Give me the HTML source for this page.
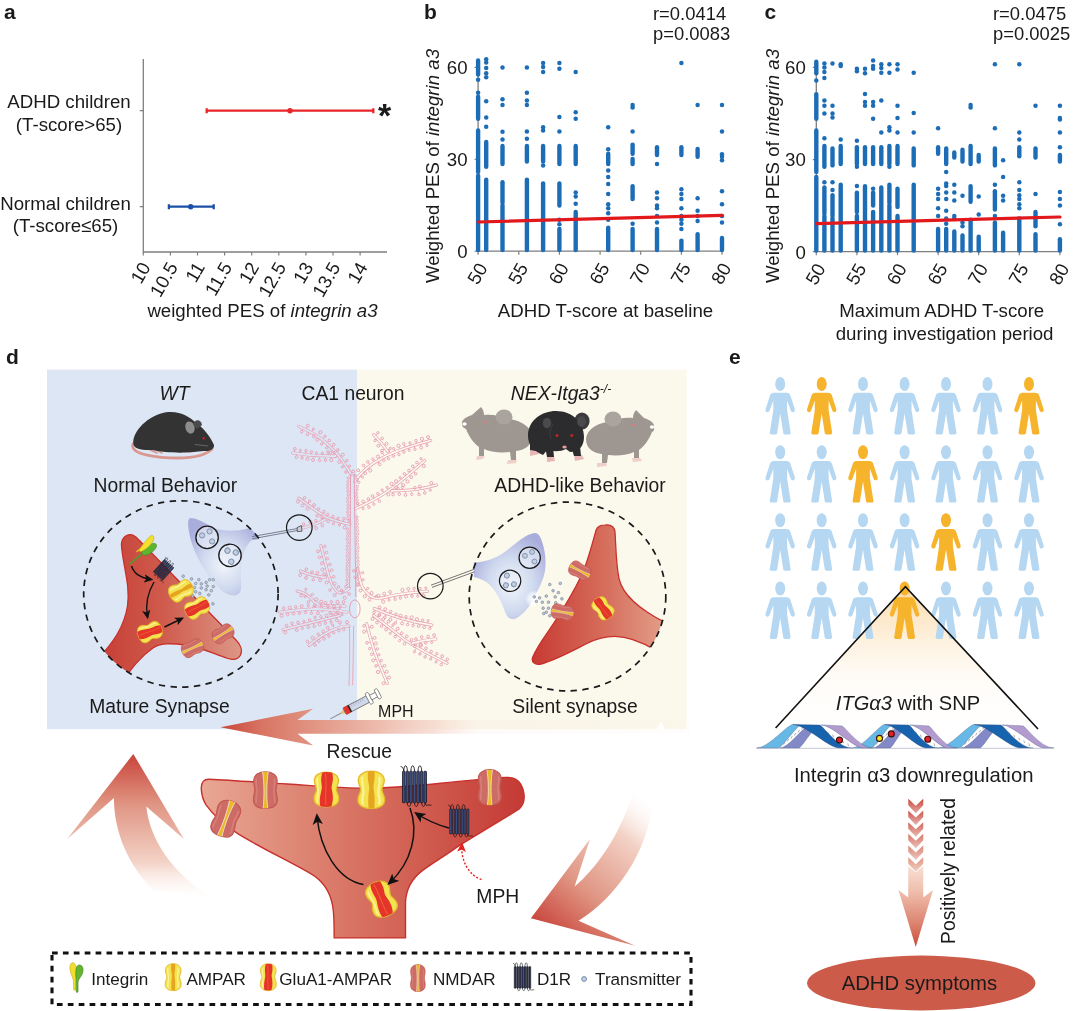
<!DOCTYPE html>
<html lang="en"><head><meta charset="utf-8"><title>Figure</title>
<style>html,body{margin:0;padding:0;background:#fff}svg{display:block}</style></head>
<body>
<svg width="1080" height="1011" viewBox="0 0 1080 1011" font-family='"Liberation Sans", sans-serif'>
<rect width="1080" height="1011" fill="#fff"/>
<defs>
<linearGradient id="gSpL" x1="0" x2="1" y1="0" y2="0"><stop offset="0" stop-color="#c63d35"/><stop offset="0.45" stop-color="#cf5a4c"/><stop offset="1" stop-color="#dd9786"/></linearGradient>
<linearGradient id="gSpR" x1="0" x2="1" y1="0" y2="0"><stop offset="0" stop-color="#c83a33"/><stop offset="0.5" stop-color="#d56a58"/><stop offset="1" stop-color="#e3a18c"/></linearGradient>
<linearGradient id="gSpB" x1="0" x2="1" y1="0" y2="0"><stop offset="0" stop-color="#e8a794"/><stop offset="0.5" stop-color="#d77060"/><stop offset="1" stop-color="#c43a34"/></linearGradient>
<radialGradient id="gBt" cx="0.52" cy="0.6" r="0.62"><stop offset="0" stop-color="#f2f6fb"/><stop offset="0.5" stop-color="#d0daef"/><stop offset="1" stop-color="#a9addc"/></radialGradient>
<linearGradient id="gResc" gradientUnits="userSpaceOnUse" x1="220" x2="690" y1="0" y2="0"><stop offset="0" stop-color="#c8443a"/><stop offset="0.09" stop-color="#d87563"/><stop offset="0.2" stop-color="#e29584"/><stop offset="0.33" stop-color="#ecb6a8" stop-opacity="0.95"/><stop offset="0.45" stop-color="#f2c8bc" stop-opacity="0.6"/><stop offset="0.55" stop-color="#f8dcd2" stop-opacity="0.15"/><stop offset="1" stop-color="#f8dcd2" stop-opacity="0.04"/></linearGradient>
<linearGradient id="gUp" gradientUnits="userSpaceOnUse" x1="0" x2="0" y1="754" y2="898"><stop offset="0" stop-color="#c8433a"/><stop offset="0.35" stop-color="#e09583"/><stop offset="0.75" stop-color="#f3d2c6"/><stop offset="1" stop-color="#fdf3ee" stop-opacity="0"/></linearGradient>
<linearGradient id="gDn" gradientUnits="userSpaceOnUse" x1="535" x2="640" y1="925" y2="795"><stop offset="0" stop-color="#c8433a"/><stop offset="0.35" stop-color="#e09583"/><stop offset="0.75" stop-color="#f3d2c6"/><stop offset="1" stop-color="#fdf3ee" stop-opacity="0"/></linearGradient>
<clipPath id="pclip"><path d="M0,-18.6C7,-18.6 13,-15.5 13,-9.5C13,-4.5 10.6,-3 10.6,0C10.6,3 13.4,5 13.4,10C13.4,16 7.5,18.8 0,18.8C-7.5,18.8 -13.4,16 -13.4,10C-13.4,5 -10.6,3 -10.6,0C-10.6,-3 -13,-4.5 -13,-9.5C-13,-15.5 -7,-18.6 0,-18.6Z"/></clipPath>
<g id="ampar"><path d="M0,-18.6C7,-18.6 13,-15.5 13,-9.5C13,-4.5 10.6,-3 10.6,0C10.6,3 13.4,5 13.4,10C13.4,16 7.5,18.8 0,18.8C-7.5,18.8 -13.4,16 -13.4,10C-13.4,5 -10.6,3 -10.6,0C-10.6,-3 -13,-4.5 -13,-9.5C-13,-15.5 -7,-18.6 0,-18.6Z" fill="#f4e24e" stroke="#e3b92a" stroke-width="1.3"/><path clip-path="url(#pclip)" d="M-3.2,-19C-4.6,-8 -1.2,-5 -2.2,0C-3.2,6 -3.4,12 -2.6,19L3,19C3.4,12 3.6,5 2.4,0C1.4,-5 4.2,-9 3.2,-19Z" fill="#e6a51e"/><path d="M-9,-12C-10,-6 -7.5,-3 -7.8,2C-8,8 -10,10 -8.5,14" fill="none" stroke="#faf29a" stroke-width="2.4" stroke-linecap="round"/><path d="M8,-12C9.4,-6 6.8,-3 7,2C7.2,8 9.6,10 8,14" fill="none" stroke="#faf29a" stroke-width="2.4" stroke-linecap="round"/></g>
<g id="glua1"><path d="M0,-18.6C7,-18.6 13,-15.5 13,-9.5C13,-4.5 10.6,-3 10.6,0C10.6,3 13.4,5 13.4,10C13.4,16 7.5,18.8 0,18.8C-7.5,18.8 -13.4,16 -13.4,10C-13.4,5 -10.6,3 -10.6,0C-10.6,-3 -13,-4.5 -13,-9.5C-13,-15.5 -7,-18.6 0,-18.6Z" fill="#f4e24e" stroke="#e3b92a" stroke-width="1.3"/><path clip-path="url(#pclip)" d="M-4,-19C-7.5,-10 -4,-5 -5.2,0C-6.5,6 -8,11 -6.5,19L5,19C8,12 7,5 5.8,0C4.6,-5 9,-9 6,-19Z" fill="#e5352a"/><path d="M-1,-17C0.5,-8 -1.5,4 -0.5,17" fill="none" stroke="#f06a3a" stroke-width="0.9"/><path d="M-9.6,-12C-10.6,-6 -8.6,-3 -8.8,2C-9,8 -10.6,10 -9.4,14" fill="none" stroke="#faf29a" stroke-width="1.8" stroke-linecap="round"/></g>
<clipPath id="nclip"><path d="M0,-18.6C6.5,-18.6 12,-15.5 12,-9.5C12,-4.5 10.8,-3 10.8,0C10.8,3 12.2,5 12.2,10C12.2,16 7,18.8 0,18.8C-7,18.8 -12.2,16 -12.2,10C-12.2,5 -10.8,3 -10.8,0C-10.8,-3 -12,-4.5 -12,-9.5C-12,-15.5 -6.5,-18.6 0,-18.6Z"/></clipPath>
<g id="nmdar"><path d="M0,-18.6C6.5,-18.6 12,-15.5 12,-9.5C12,-4.5 10.8,-3 10.8,0C10.8,3 12.2,5 12.2,10C12.2,16 7,18.8 0,18.8C-7,18.8 -12.2,16 -12.2,10C-12.2,5 -10.8,3 -10.8,0C-10.8,-3 -12,-4.5 -12,-9.5C-12,-15.5 -6.5,-18.6 0,-18.6Z" fill="#cd6b67" stroke="#c2584e" stroke-width="1.1"/><path d="M-9.4,-11C-10,-6 -8.6,-3 -8.7,1C-8.8,7 -10,9 -9.4,13" fill="none" stroke="#d87f78" stroke-width="1.6" stroke-linecap="round"/><path d="M9.4,-11C10,-6 8.6,-3 8.7,1C8.8,7 10,9 9.4,13" fill="none" stroke="#d87f78" stroke-width="1.6" stroke-linecap="round"/><path clip-path="url(#nclip)" d="M-3,-19L3,-19C1.2,-9 0.9,7 2.4,19.2L-2.4,19.2C-0.9,7 -1.2,-9 -3,-19Z" fill="#e9b822" stroke="#f4ded0" stroke-width="0.9"/></g>
<g id="d1r"><path d="M-10.2,-15c0,-7 3.4,-7 3.4,0M-3.4,-15c0,-7 3.4,-7 3.4,0M3.4,-15c0,-7 3.4,-7 3.4,0M-6.8,15c0,4.6 3.4,4.6 3.4,0M0,15c0,4.6 3.4,4.6 3.4,0M6.8,15c0,4.6 3.4,4.6 3.4,0M-10.2,-15c-0.3,-3 -1.2,-4.5 -3,-4.5M10.2,15c0.4,3 2,2.6 3,2.2s2,0.6 3,0" fill="none" stroke="#0f1118" stroke-width="0.8"/><rect x="-11.45" y="-15" width="2.5" height="30" rx="0.6" fill="#3e4f82" stroke="#0f1118" stroke-width="0.7"/><rect x="-8.05" y="-15" width="2.5" height="30" rx="0.6" fill="#3e4f82" stroke="#0f1118" stroke-width="0.7"/><rect x="-4.65" y="-15" width="2.5" height="30" rx="0.6" fill="#3e4f82" stroke="#0f1118" stroke-width="0.7"/><rect x="-1.25" y="-15" width="2.5" height="30" rx="0.6" fill="#3e4f82" stroke="#0f1118" stroke-width="0.7"/><rect x="2.15" y="-15" width="2.5" height="30" rx="0.6" fill="#3e4f82" stroke="#0f1118" stroke-width="0.7"/><rect x="5.55" y="-15" width="2.5" height="30" rx="0.6" fill="#3e4f82" stroke="#0f1118" stroke-width="0.7"/><rect x="8.95" y="-15" width="2.5" height="30" rx="0.6" fill="#3e4f82" stroke="#0f1118" stroke-width="0.7"/></g>
<g id="d1rk"><path d="M-10.2,-15c0,-7 3.4,-7 3.4,0M-3.4,-15c0,-7 3.4,-7 3.4,0M3.4,-15c0,-7 3.4,-7 3.4,0M-6.8,15c0,4.6 3.4,4.6 3.4,0M0,15c0,4.6 3.4,4.6 3.4,0M6.8,15c0,4.6 3.4,4.6 3.4,0M-10.2,-15c-0.3,-3 -1.2,-4.5 -3,-4.5M10.2,15c0.4,3 2,2.6 3,2.2s2,0.6 3,0" fill="none" stroke="#0f1118" stroke-width="0.8"/><rect x="-11.45" y="-15" width="2.5" height="30" rx="0.6" fill="#2b3152" stroke="#0f1118" stroke-width="0.7"/><rect x="-8.05" y="-15" width="2.5" height="30" rx="0.6" fill="#2b3152" stroke="#0f1118" stroke-width="0.7"/><rect x="-4.65" y="-15" width="2.5" height="30" rx="0.6" fill="#2b3152" stroke="#0f1118" stroke-width="0.7"/><rect x="-1.25" y="-15" width="2.5" height="30" rx="0.6" fill="#2b3152" stroke="#0f1118" stroke-width="0.7"/><rect x="2.15" y="-15" width="2.5" height="30" rx="0.6" fill="#2b3152" stroke="#0f1118" stroke-width="0.7"/><rect x="5.55" y="-15" width="2.5" height="30" rx="0.6" fill="#2b3152" stroke="#0f1118" stroke-width="0.7"/><rect x="8.95" y="-15" width="2.5" height="30" rx="0.6" fill="#2b3152" stroke="#0f1118" stroke-width="0.7"/></g>
<g id="integ"><path d="M-2.5,-13C-6,-14 -7,-8 -5,-3C-4,0 -2.8,2 -2.6,5L-2.4,12C-2.4,13.6 -0.6,13.6 -0.6,12L-0.6,2C0.5,-3 1.5,-10 -2.5,-13Z" fill="#f1de2c" stroke="#b8a21a" stroke-width="0.5"/><path d="M3,-11C7.5,-11 7.5,-4 4.5,0C3,2 1.8,3.5 1.8,6L1.8,14C1.8,15.6 0,15.6 0,14L0,3C-0.8,-3 -1,-11 3,-11Z" fill="#62b32e" stroke="#3f7d1c" stroke-width="0.5"/></g>
<g id="ves"><circle r="11.2" fill="#e9eef8" fill-opacity="0.6" stroke="#1a1a1a" stroke-width="1.3"/><circle cx="-5" cy="-2" r="2.6" fill="#c3cede" stroke="#7f93ae" stroke-width="1"/><circle cx="2.5" cy="-6" r="2.6" fill="#c3cede" stroke="#7f93ae" stroke-width="1"/><circle cx="5" cy="4" r="2.6" fill="#c3cede" stroke="#7f93ae" stroke-width="1"/></g>
<radialGradient id="gGlow"><stop offset="0" stop-color="#fff" stop-opacity="0.95"/><stop offset="0.6" stop-color="#fff" stop-opacity="0.6"/><stop offset="1" stop-color="#fff" stop-opacity="0"/></radialGradient>
<marker id="ah" viewBox="0 0 10 10" refX="7.5" refY="5" markerWidth="7.6" markerHeight="7.6" orient="auto-start-reverse"><path d="M0,0.5L10,5L0,9.5L2.5,5Z" fill="#111"/></marker>
<marker id="ahs" viewBox="0 0 10 10" refX="7.5" refY="5" markerWidth="6.6" markerHeight="6.6" orient="auto-start-reverse"><path d="M0,0.5L10,5L0,9.5L2.5,5Z" fill="#111"/></marker>
<marker id="ahr" viewBox="0 0 10 10" refX="6" refY="5" markerWidth="7" markerHeight="7" orient="auto-start-reverse"><path d="M0,0.5L10,5L0,9.5L2.5,5Z" fill="#e2231f"/></marker>
</defs>
<defs>
<g id="person"><ellipse cx="0" cy="7" rx="5" ry="7"/><path d="M-6.3,15.8L6.3,15.8C8.3,15.8 9.6,16.8 10.2,18.6L14.6,32C15.6,35.2 11.6,36.4 10.6,33.6L6.9,23.6L6.9,33L10.4,55.6C10.6,56.8 10,57.4 8.8,57.4L4.6,57.4C3.6,57.4 3.2,56.9 3,55.8L0,36.4L-3,55.8C-3.2,56.9 -3.6,57.4 -4.6,57.4L-8.8,57.4C-10,57.4 -10.6,56.8 -10.4,55.6L-6.9,33L-6.9,23.6L-10.6,33.6C-11.6,36.4 -15.6,35.2 -14.6,32L-10.2,18.6C-9.6,16.8 -8.3,15.8 -6.3,15.8Z"/></g>
<linearGradient id="gTri" gradientUnits="userSpaceOnUse" x1="0" x2="0" y1="587" y2="728"><stop offset="0" stop-color="#fad9a6"/><stop offset="0.2" stop-color="#fce7c8"/><stop offset="0.42" stop-color="#fef3e3"/><stop offset="0.65" stop-color="#fffcf8"/><stop offset="1" stop-color="#ffffff"/></linearGradient>
<linearGradient id="gChev" gradientUnits="userSpaceOnUse" x1="0" x2="0" y1="798" y2="870"><stop offset="0" stop-color="#c84a3a"/><stop offset="0.5" stop-color="#dd8470"/><stop offset="1" stop-color="#f3cbbb"/></linearGradient>
<linearGradient id="gHead" gradientUnits="userSpaceOnUse" x1="0" x2="0" y1="866" y2="947"><stop offset="0" stop-color="#f8dfd3"/><stop offset="0.3" stop-color="#f0c0ae"/><stop offset="0.7" stop-color="#dc8571"/><stop offset="1" stop-color="#c84a3a"/></linearGradient>
</defs>
<g id="pa">
<text x="4.0" y="19.0" font-size="21" text-anchor="start" fill="#1a1a1a" font-weight="bold">a</text>
<path d="M143.3 59V252H387" fill="none" stroke="#7f7f7f" stroke-width="1.3"/>
<path d="M143.3 252v3.5" stroke="#7f7f7f" stroke-width="1.2"/>
<text transform="translate(151.3,267.0) rotate(-60)" font-size="18.66" text-anchor="end" fill="#1a1a1a">10</text>
<path d="M170.4 252v3.5" stroke="#7f7f7f" stroke-width="1.2"/>
<text transform="translate(178.4,267.0) rotate(-60)" font-size="18.66" text-anchor="end" fill="#1a1a1a">10.5</text>
<path d="M197.5 252v3.5" stroke="#7f7f7f" stroke-width="1.2"/>
<text transform="translate(205.5,267.0) rotate(-60)" font-size="18.66" text-anchor="end" fill="#1a1a1a">11</text>
<path d="M224.6 252v3.5" stroke="#7f7f7f" stroke-width="1.2"/>
<text transform="translate(232.6,267.0) rotate(-60)" font-size="18.66" text-anchor="end" fill="#1a1a1a">11.5</text>
<path d="M251.7 252v3.5" stroke="#7f7f7f" stroke-width="1.2"/>
<text transform="translate(259.7,267.0) rotate(-60)" font-size="18.66" text-anchor="end" fill="#1a1a1a">12</text>
<path d="M278.8 252v3.5" stroke="#7f7f7f" stroke-width="1.2"/>
<text transform="translate(286.8,267.0) rotate(-60)" font-size="18.66" text-anchor="end" fill="#1a1a1a">12.5</text>
<path d="M305.9 252v3.5" stroke="#7f7f7f" stroke-width="1.2"/>
<text transform="translate(313.9,267.0) rotate(-60)" font-size="18.66" text-anchor="end" fill="#1a1a1a">13</text>
<path d="M333.0 252v3.5" stroke="#7f7f7f" stroke-width="1.2"/>
<text transform="translate(341.0,267.0) rotate(-60)" font-size="18.66" text-anchor="end" fill="#1a1a1a">13.5</text>
<path d="M360.1 252v3.5" stroke="#7f7f7f" stroke-width="1.2"/>
<text transform="translate(368.1,267.0) rotate(-60)" font-size="18.66" text-anchor="end" fill="#1a1a1a">14</text>
<path d="M143.3 110.7h-3.5M143.3 206.7h-3.5" stroke="#7f7f7f" stroke-width="1.2"/>
<g stroke="#e8262a" stroke-width="2.3" fill="#e8262a"><path d="M206.7 110.7H373.3M206.7 108.2v5M373.3 108.2v5"/><circle cx="290" cy="110.7" r="2.7" stroke="none"/></g>
<g stroke="#1c50a8" stroke-width="2.3" fill="#1c50a8"><path d="M168.9 206.7H213.7M168.9 204.2v5M213.7 204.2v5"/><circle cx="190.7" cy="206.7" r="2.7" stroke="none"/></g>
<text x="384.5" y="127.0" font-size="34" text-anchor="middle" fill="#1a1a1a" font-weight="bold">*</text>
<text x="69.0" y="108.0" font-size="18.66" text-anchor="middle" fill="#1a1a1a" >ADHD children</text>
<text x="69.0" y="131.0" font-size="18.66" text-anchor="middle" fill="#1a1a1a" >(T-score&gt;65)</text>
<text x="65.5" y="210.0" font-size="18.66" text-anchor="middle" fill="#1a1a1a" >Normal children</text>
<text x="65.5" y="232.0" font-size="18.66" text-anchor="middle" fill="#1a1a1a" >(T-score≤65)</text>
<text x="262.5" y="317.0" font-size="18.66" text-anchor="middle" fill="#1a1a1a" >weighted PES of <tspan font-style="italic">integrin a3</tspan></text>
</g>
<g id="pb">
<text x="424.0" y="19.0" font-size="21" text-anchor="start" fill="#1a1a1a" font-weight="bold">b</text>
<path d="M478.1 60V251.2H723.0" fill="none" stroke="#7f7f7f" stroke-width="1.3"/>
<path d="M478.1 251.2h-3.5" stroke="#7f7f7f" stroke-width="1.2"/>
<text x="467.6" y="258.0" font-size="18.66" text-anchor="end" fill="#1a1a1a" >0</text>
<path d="M478.1 159.3h-3.5" stroke="#7f7f7f" stroke-width="1.2"/>
<text x="467.6" y="166.1" font-size="18.66" text-anchor="end" fill="#1a1a1a" >30</text>
<path d="M478.1 67.4h-3.5" stroke="#7f7f7f" stroke-width="1.2"/>
<text x="467.6" y="74.2" font-size="18.66" text-anchor="end" fill="#1a1a1a" >60</text>
<path d="M478.1 251.2v3.5" stroke="#7f7f7f" stroke-width="1.2"/>
<text transform="translate(488.1,267.7) rotate(-60)" font-size="18.66" text-anchor="end" fill="#1a1a1a">50</text>
<path d="M518.8 251.2v3.5" stroke="#7f7f7f" stroke-width="1.2"/>
<text transform="translate(528.8,267.7) rotate(-60)" font-size="18.66" text-anchor="end" fill="#1a1a1a">55</text>
<path d="M559.4 251.2v3.5" stroke="#7f7f7f" stroke-width="1.2"/>
<text transform="translate(569.4,267.7) rotate(-60)" font-size="18.66" text-anchor="end" fill="#1a1a1a">60</text>
<path d="M600.1 251.2v3.5" stroke="#7f7f7f" stroke-width="1.2"/>
<text transform="translate(610.1,267.7) rotate(-60)" font-size="18.66" text-anchor="end" fill="#1a1a1a">65</text>
<path d="M640.7 251.2v3.5" stroke="#7f7f7f" stroke-width="1.2"/>
<text transform="translate(650.7,267.7) rotate(-60)" font-size="18.66" text-anchor="end" fill="#1a1a1a">70</text>
<path d="M681.4 251.2v3.5" stroke="#7f7f7f" stroke-width="1.2"/>
<text transform="translate(691.4,267.7) rotate(-60)" font-size="18.66" text-anchor="end" fill="#1a1a1a">75</text>
<path d="M722.0 251.2v3.5" stroke="#7f7f7f" stroke-width="1.2"/>
<text transform="translate(732.0,267.7) rotate(-60)" font-size="18.66" text-anchor="end" fill="#1a1a1a">80</text>
<g fill="#1d6db6">
<path d="M478.1 250.0V175.7" stroke="#1d6db6" stroke-width="4.4" stroke-linecap="round"/>
<path d="M478.1 171.9V130.4" stroke="#1d6db6" stroke-width="4.4" stroke-linecap="round"/>
<path d="M478.1 118.7V96.7" stroke="#1d6db6" stroke-width="4.4" stroke-linecap="round"/>
<circle cx="478.1" cy="92.8" r="2.25"/>
<circle cx="478.1" cy="79.8" r="2.25"/>
<path d="M478.1 74.6V60.4" stroke="#1d6db6" stroke-width="4.4" stroke-linecap="round"/>
<path d="M486.2 250.0V179.6" stroke="#1d6db6" stroke-width="4.4" stroke-linecap="round"/>
<path d="M486.2 166.7V142.0" stroke="#1d6db6" stroke-width="4.4" stroke-linecap="round"/>
<circle cx="486.2" cy="126.7" r="2.25"/>
<circle cx="486.2" cy="117.4" r="2.25"/>
<circle cx="486.2" cy="101.3" r="2.25"/>
<circle cx="486.2" cy="77.2" r="2.25"/>
<circle cx="486.2" cy="73.3" r="2.25"/>
<circle cx="486.2" cy="68.1" r="2.25"/>
<circle cx="486.2" cy="62.4" r="2.25"/>
<circle cx="486.2" cy="59.3" r="2.25"/>
<path d="M502.5 250.0V205.6" stroke="#1d6db6" stroke-width="4.4" stroke-linecap="round"/>
<path d="M502.5 203.0V182.2" stroke="#1d6db6" stroke-width="4.4" stroke-linecap="round"/>
<path d="M502.5 164.1V145.9" stroke="#1d6db6" stroke-width="4.4" stroke-linecap="round"/>
<circle cx="502.5" cy="139.4" r="2.25"/>
<circle cx="502.5" cy="131.7" r="2.25"/>
<circle cx="502.5" cy="105.0" r="2.25"/>
<circle cx="502.5" cy="99.3" r="2.25"/>
<circle cx="502.5" cy="67.6" r="2.25"/>
<path d="M526.9 250.0V179.6" stroke="#1d6db6" stroke-width="4.4" stroke-linecap="round"/>
<path d="M526.9 161.5V145.9" stroke="#1d6db6" stroke-width="4.4" stroke-linecap="round"/>
<circle cx="526.9" cy="138.7" r="2.25"/>
<circle cx="526.9" cy="131.4" r="2.25"/>
<circle cx="526.9" cy="105.0" r="2.25"/>
<circle cx="526.9" cy="100.6" r="2.25"/>
<circle cx="526.9" cy="92.8" r="2.25"/>
<circle cx="526.9" cy="67.6" r="2.25"/>
<path d="M543.1 250.0V184.8" stroke="#1d6db6" stroke-width="4.4" stroke-linecap="round"/>
<circle cx="543.1" cy="183.5" r="2.25"/>
<circle cx="543.1" cy="165.4" r="2.25"/>
<path d="M543.1 161.5V145.9" stroke="#1d6db6" stroke-width="4.4" stroke-linecap="round"/>
<circle cx="543.1" cy="130.4" r="2.25"/>
<circle cx="543.1" cy="127.3" r="2.25"/>
<circle cx="543.1" cy="72.0" r="2.25"/>
<circle cx="543.1" cy="66.9" r="2.25"/>
<circle cx="543.1" cy="63.0" r="2.25"/>
<path d="M559.4 250.0V228.9" stroke="#1d6db6" stroke-width="4.4" stroke-linecap="round"/>
<circle cx="559.4" cy="224.2" r="2.25"/>
<circle cx="559.4" cy="219.8" r="2.25"/>
<path d="M559.4 205.6V183.5" stroke="#1d6db6" stroke-width="4.4" stroke-linecap="round"/>
<path d="M559.4 164.1V145.9" stroke="#1d6db6" stroke-width="4.4" stroke-linecap="round"/>
<circle cx="559.4" cy="131.4" r="2.25"/>
<circle cx="559.4" cy="116.9" r="2.25"/>
<circle cx="559.4" cy="68.7" r="2.25"/>
<circle cx="559.4" cy="63.0" r="2.25"/>
<path d="M575.7 250.0V212.0" stroke="#1d6db6" stroke-width="4.4" stroke-linecap="round"/>
<circle cx="575.7" cy="203.7" r="2.25"/>
<circle cx="575.7" cy="196.5" r="2.25"/>
<circle cx="575.7" cy="192.6" r="2.25"/>
<path d="M575.7 164.1V145.9" stroke="#1d6db6" stroke-width="4.4" stroke-linecap="round"/>
<circle cx="575.7" cy="118.7" r="2.25"/>
<circle cx="575.7" cy="112.2" r="2.25"/>
<circle cx="575.7" cy="72.0" r="2.25"/>
<path d="M608.2 250.0V227.6" stroke="#1d6db6" stroke-width="4.4" stroke-linecap="round"/>
<circle cx="608.2" cy="219.8" r="2.25"/>
<circle cx="608.2" cy="213.3" r="2.25"/>
<circle cx="608.2" cy="208.2" r="2.25"/>
<circle cx="608.2" cy="204.3" r="2.25"/>
<circle cx="608.2" cy="193.9" r="2.25"/>
<circle cx="608.2" cy="184.0" r="2.25"/>
<circle cx="608.2" cy="177.0" r="2.25"/>
<circle cx="608.2" cy="170.6" r="2.25"/>
<path d="M608.2 164.1V153.7" stroke="#1d6db6" stroke-width="4.4" stroke-linecap="round"/>
<circle cx="608.2" cy="149.3" r="2.25"/>
<circle cx="608.2" cy="127.3" r="2.25"/>
<path d="M632.6 250.0V228.9" stroke="#1d6db6" stroke-width="4.4" stroke-linecap="round"/>
<circle cx="632.6" cy="223.7" r="2.25"/>
<path d="M632.6 199.1V186.1" stroke="#1d6db6" stroke-width="4.4" stroke-linecap="round"/>
<path d="M632.6 164.1V158.9" stroke="#1d6db6" stroke-width="4.4" stroke-linecap="round"/>
<path d="M632.6 153.7V144.6" stroke="#1d6db6" stroke-width="4.4" stroke-linecap="round"/>
<circle cx="632.6" cy="131.4" r="2.25"/>
<circle cx="632.6" cy="107.6" r="2.25"/>
<circle cx="632.6" cy="105.0" r="2.25"/>
<path d="M657.0 250.0V228.9" stroke="#1d6db6" stroke-width="4.4" stroke-linecap="round"/>
<circle cx="657.0" cy="222.4" r="2.25"/>
<circle cx="657.0" cy="215.9" r="2.25"/>
<circle cx="657.0" cy="208.2" r="2.25"/>
<circle cx="657.0" cy="205.6" r="2.25"/>
<circle cx="657.0" cy="198.3" r="2.25"/>
<circle cx="657.0" cy="192.6" r="2.25"/>
<circle cx="657.0" cy="164.1" r="2.25"/>
<path d="M657.0 155.0V147.2" stroke="#1d6db6" stroke-width="4.4" stroke-linecap="round"/>
<path d="M681.4 250.0V240.6" stroke="#1d6db6" stroke-width="4.4" stroke-linecap="round"/>
<circle cx="681.4" cy="228.9" r="2.25"/>
<circle cx="681.4" cy="223.7" r="2.25"/>
<circle cx="681.4" cy="219.8" r="2.25"/>
<circle cx="681.4" cy="215.9" r="2.25"/>
<circle cx="681.4" cy="208.2" r="2.25"/>
<circle cx="681.4" cy="199.1" r="2.25"/>
<circle cx="681.4" cy="193.9" r="2.25"/>
<circle cx="681.4" cy="189.2" r="2.25"/>
<path d="M681.4 155.0V147.2" stroke="#1d6db6" stroke-width="4.4" stroke-linecap="round"/>
<circle cx="681.4" cy="63.0" r="2.25"/>
<path d="M697.6 250.0V234.1" stroke="#1d6db6" stroke-width="4.4" stroke-linecap="round"/>
<circle cx="697.6" cy="221.1" r="2.25"/>
<circle cx="697.6" cy="215.9" r="2.25"/>
<circle cx="697.6" cy="210.7" r="2.25"/>
<circle cx="697.6" cy="198.3" r="2.25"/>
<path d="M697.6 156.8V149.0" stroke="#1d6db6" stroke-width="4.4" stroke-linecap="round"/>
<circle cx="697.6" cy="105.0" r="2.25"/>
<path d="M722.0 250.0V238.0" stroke="#1d6db6" stroke-width="4.4" stroke-linecap="round"/>
<circle cx="722.0" cy="222.4" r="2.25"/>
<circle cx="722.0" cy="215.9" r="2.25"/>
<circle cx="722.0" cy="204.3" r="2.25"/>
<circle cx="722.0" cy="191.3" r="2.25"/>
<circle cx="722.0" cy="160.2" r="2.25"/>
<circle cx="722.0" cy="156.8" r="2.25"/>
<circle cx="722.0" cy="154.2" r="2.25"/>
<circle cx="722.0" cy="131.4" r="2.25"/>
<circle cx="722.0" cy="105.0" r="2.25"/>
</g>
<path d="M478.1 222.0L722.0 215.3" stroke="#e2191c" stroke-width="3.2" stroke-linecap="round"/>
<text x="653.0" y="19.5" font-size="18.4" text-anchor="start" fill="#1a1a1a" >r=0.0414</text>
<text x="653.0" y="39.5" font-size="18.4" text-anchor="start" fill="#1a1a1a" >p=0.0083</text>
<text transform="translate(439,166) rotate(-90)" font-size="18.66" text-anchor="middle" fill="#1a1a1a">Weighted PES of <tspan font-style="italic">integrin a3</tspan></text>
<text x="605.5" y="316.5" font-size="18.66" text-anchor="middle" fill="#1a1a1a" >ADHD T-score at baseline</text>
</g>
<g id="pc">
<text x="764.5" y="19.0" font-size="21" text-anchor="start" fill="#1a1a1a" font-weight="bold">c</text>
<path d="M816.3 60V251.7H1060.9" fill="none" stroke="#7f7f7f" stroke-width="1.3"/>
<path d="M816.3 251.7h-3.5" stroke="#7f7f7f" stroke-width="1.2"/>
<text x="805.8" y="258.5" font-size="18.66" text-anchor="end" fill="#1a1a1a" >0</text>
<path d="M816.3 159.6h-3.5" stroke="#7f7f7f" stroke-width="1.2"/>
<text x="805.8" y="166.4" font-size="18.66" text-anchor="end" fill="#1a1a1a" >30</text>
<path d="M816.3 67.4h-3.5" stroke="#7f7f7f" stroke-width="1.2"/>
<text x="805.8" y="74.2" font-size="18.66" text-anchor="end" fill="#1a1a1a" >60</text>
<path d="M816.3 251.7v3.5" stroke="#7f7f7f" stroke-width="1.2"/>
<text transform="translate(826.3,268.2) rotate(-60)" font-size="18.66" text-anchor="end" fill="#1a1a1a">50</text>
<path d="M856.9 251.7v3.5" stroke="#7f7f7f" stroke-width="1.2"/>
<text transform="translate(866.9,268.2) rotate(-60)" font-size="18.66" text-anchor="end" fill="#1a1a1a">55</text>
<path d="M897.5 251.7v3.5" stroke="#7f7f7f" stroke-width="1.2"/>
<text transform="translate(907.5,268.2) rotate(-60)" font-size="18.66" text-anchor="end" fill="#1a1a1a">60</text>
<path d="M938.1 251.7v3.5" stroke="#7f7f7f" stroke-width="1.2"/>
<text transform="translate(948.1,268.2) rotate(-60)" font-size="18.66" text-anchor="end" fill="#1a1a1a">65</text>
<path d="M978.7 251.7v3.5" stroke="#7f7f7f" stroke-width="1.2"/>
<text transform="translate(988.7,268.2) rotate(-60)" font-size="18.66" text-anchor="end" fill="#1a1a1a">70</text>
<path d="M1019.3 251.7v3.5" stroke="#7f7f7f" stroke-width="1.2"/>
<text transform="translate(1029.3,268.2) rotate(-60)" font-size="18.66" text-anchor="end" fill="#1a1a1a">75</text>
<path d="M1059.9 251.7v3.5" stroke="#7f7f7f" stroke-width="1.2"/>
<text transform="translate(1069.9,268.2) rotate(-60)" font-size="18.66" text-anchor="end" fill="#1a1a1a">80</text>
<g fill="#1d6db6">
<path d="M816.3 250.5V177.0" stroke="#1d6db6" stroke-width="4.4" stroke-linecap="round"/>
<path d="M816.3 171.9V130.4" stroke="#1d6db6" stroke-width="4.4" stroke-linecap="round"/>
<path d="M816.3 118.7V94.1" stroke="#1d6db6" stroke-width="4.4" stroke-linecap="round"/>
<circle cx="816.3" cy="80.6" r="2.25"/>
<path d="M816.3 73.3V61.7" stroke="#1d6db6" stroke-width="4.4" stroke-linecap="round"/>
<path d="M824.4 250.5V215.9" stroke="#1d6db6" stroke-width="4.4" stroke-linecap="round"/>
<path d="M824.4 213.3V187.4" stroke="#1d6db6" stroke-width="4.4" stroke-linecap="round"/>
<circle cx="824.4" cy="182.2" r="2.25"/>
<path d="M824.4 166.7V145.9" stroke="#1d6db6" stroke-width="4.4" stroke-linecap="round"/>
<circle cx="824.4" cy="138.2" r="2.25"/>
<circle cx="824.4" cy="113.5" r="2.25"/>
<circle cx="824.4" cy="105.7" r="2.25"/>
<circle cx="824.4" cy="100.6" r="2.25"/>
<circle cx="824.4" cy="78.0" r="2.25"/>
<circle cx="824.4" cy="72.0" r="2.25"/>
<circle cx="824.4" cy="67.6" r="2.25"/>
<circle cx="824.4" cy="63.5" r="2.25"/>
<path d="M832.5 250.5V218.5" stroke="#1d6db6" stroke-width="4.4" stroke-linecap="round"/>
<path d="M832.5 215.9V195.2" stroke="#1d6db6" stroke-width="4.4" stroke-linecap="round"/>
<circle cx="832.5" cy="190.0" r="2.25"/>
<circle cx="832.5" cy="182.2" r="2.25"/>
<path d="M832.5 165.4V148.5" stroke="#1d6db6" stroke-width="4.4" stroke-linecap="round"/>
<circle cx="832.5" cy="117.4" r="2.25"/>
<circle cx="832.5" cy="113.5" r="2.25"/>
<circle cx="832.5" cy="105.7" r="2.25"/>
<circle cx="832.5" cy="63.5" r="2.25"/>
<path d="M840.7 250.5V184.8" stroke="#1d6db6" stroke-width="4.4" stroke-linecap="round"/>
<path d="M840.7 164.1V145.9" stroke="#1d6db6" stroke-width="4.4" stroke-linecap="round"/>
<circle cx="840.7" cy="139.4" r="2.25"/>
<circle cx="840.7" cy="66.1" r="2.25"/>
<circle cx="840.7" cy="64.3" r="2.25"/>
<path d="M856.9 250.5V215.9" stroke="#1d6db6" stroke-width="4.4" stroke-linecap="round"/>
<path d="M856.9 212.0V192.6" stroke="#1d6db6" stroke-width="4.4" stroke-linecap="round"/>
<circle cx="856.9" cy="186.1" r="2.25"/>
<circle cx="856.9" cy="166.7" r="2.25"/>
<path d="M856.9 164.1V147.2" stroke="#1d6db6" stroke-width="4.4" stroke-linecap="round"/>
<circle cx="856.9" cy="140.7" r="2.25"/>
<circle cx="856.9" cy="71.3" r="2.25"/>
<circle cx="856.9" cy="68.7" r="2.25"/>
<path d="M865.0 250.5V186.1" stroke="#1d6db6" stroke-width="4.4" stroke-linecap="round"/>
<path d="M865.0 164.1V147.2" stroke="#1d6db6" stroke-width="4.4" stroke-linecap="round"/>
<circle cx="865.0" cy="105.7" r="2.25"/>
<circle cx="865.0" cy="101.9" r="2.25"/>
<circle cx="865.0" cy="94.1" r="2.25"/>
<circle cx="865.0" cy="73.3" r="2.25"/>
<circle cx="865.0" cy="68.7" r="2.25"/>
<path d="M873.1 250.5V212.0" stroke="#1d6db6" stroke-width="4.4" stroke-linecap="round"/>
<path d="M873.1 205.6V192.6" stroke="#1d6db6" stroke-width="4.4" stroke-linecap="round"/>
<circle cx="873.1" cy="188.7" r="2.25"/>
<path d="M873.1 164.1V147.2" stroke="#1d6db6" stroke-width="4.4" stroke-linecap="round"/>
<circle cx="873.1" cy="118.7" r="2.25"/>
<circle cx="873.1" cy="105.7" r="2.25"/>
<circle cx="873.1" cy="101.9" r="2.25"/>
<circle cx="873.1" cy="68.7" r="2.25"/>
<circle cx="873.1" cy="66.1" r="2.25"/>
<circle cx="873.1" cy="60.4" r="2.25"/>
<path d="M881.3 250.5V187.4" stroke="#1d6db6" stroke-width="4.4" stroke-linecap="round"/>
<path d="M881.3 164.1V147.2" stroke="#1d6db6" stroke-width="4.4" stroke-linecap="round"/>
<circle cx="881.3" cy="132.4" r="2.25"/>
<circle cx="881.3" cy="100.6" r="2.25"/>
<circle cx="881.3" cy="72.8" r="2.25"/>
<circle cx="881.3" cy="68.1" r="2.25"/>
<circle cx="881.3" cy="64.3" r="2.25"/>
<path d="M889.4 250.5V205.6" stroke="#1d6db6" stroke-width="4.4" stroke-linecap="round"/>
<path d="M889.4 203.0V184.8" stroke="#1d6db6" stroke-width="4.4" stroke-linecap="round"/>
<circle cx="889.4" cy="166.7" r="2.25"/>
<path d="M889.4 164.1V145.9" stroke="#1d6db6" stroke-width="4.4" stroke-linecap="round"/>
<circle cx="889.4" cy="130.4" r="2.25"/>
<circle cx="889.4" cy="127.3" r="2.25"/>
<circle cx="889.4" cy="72.8" r="2.25"/>
<circle cx="889.4" cy="64.3" r="2.25"/>
<path d="M897.5 250.5V215.9" stroke="#1d6db6" stroke-width="4.4" stroke-linecap="round"/>
<path d="M897.5 206.9V188.7" stroke="#1d6db6" stroke-width="4.4" stroke-linecap="round"/>
<path d="M897.5 164.1V145.9" stroke="#1d6db6" stroke-width="4.4" stroke-linecap="round"/>
<circle cx="897.5" cy="132.4" r="2.25"/>
<circle cx="897.5" cy="117.9" r="2.25"/>
<circle cx="897.5" cy="105.7" r="2.25"/>
<circle cx="897.5" cy="69.4" r="2.25"/>
<circle cx="897.5" cy="64.3" r="2.25"/>
<path d="M913.7 250.5V184.8" stroke="#1d6db6" stroke-width="4.4" stroke-linecap="round"/>
<path d="M913.7 165.4V148.5" stroke="#1d6db6" stroke-width="4.4" stroke-linecap="round"/>
<circle cx="913.7" cy="132.4" r="2.25"/>
<circle cx="913.7" cy="113.0" r="2.25"/>
<circle cx="913.7" cy="72.8" r="2.25"/>
<path d="M938.1 250.5V228.9" stroke="#1d6db6" stroke-width="4.4" stroke-linecap="round"/>
<circle cx="938.1" cy="215.9" r="2.25"/>
<circle cx="938.1" cy="208.2" r="2.25"/>
<circle cx="938.1" cy="199.1" r="2.25"/>
<circle cx="938.1" cy="193.9" r="2.25"/>
<circle cx="938.1" cy="188.7" r="2.25"/>
<path d="M938.1 153.7V147.2" stroke="#1d6db6" stroke-width="4.4" stroke-linecap="round"/>
<circle cx="938.1" cy="128.3" r="2.25"/>
<path d="M946.2 250.5V228.9" stroke="#1d6db6" stroke-width="4.4" stroke-linecap="round"/>
<circle cx="946.2" cy="223.7" r="2.25"/>
<circle cx="946.2" cy="218.5" r="2.25"/>
<circle cx="946.2" cy="210.7" r="2.25"/>
<circle cx="946.2" cy="199.1" r="2.25"/>
<circle cx="946.2" cy="192.6" r="2.25"/>
<circle cx="946.2" cy="186.1" r="2.25"/>
<circle cx="946.2" cy="183.5" r="2.25"/>
<circle cx="946.2" cy="171.9" r="2.25"/>
<path d="M946.2 164.1V148.5" stroke="#1d6db6" stroke-width="4.4" stroke-linecap="round"/>
<path d="M954.3 250.5V231.5" stroke="#1d6db6" stroke-width="4.4" stroke-linecap="round"/>
<circle cx="954.3" cy="218.5" r="2.25"/>
<circle cx="954.3" cy="215.9" r="2.25"/>
<circle cx="954.3" cy="200.4" r="2.25"/>
<circle cx="954.3" cy="192.6" r="2.25"/>
<circle cx="954.3" cy="184.8" r="2.25"/>
<path d="M954.3 157.6V152.4" stroke="#1d6db6" stroke-width="4.4" stroke-linecap="round"/>
<path d="M962.5 250.5V235.4" stroke="#1d6db6" stroke-width="4.4" stroke-linecap="round"/>
<circle cx="962.5" cy="226.3" r="2.25"/>
<circle cx="962.5" cy="222.4" r="2.25"/>
<circle cx="962.5" cy="195.7" r="2.25"/>
<path d="M962.5 161.5V149.8" stroke="#1d6db6" stroke-width="4.4" stroke-linecap="round"/>
<path d="M970.6 250.5V219.8" stroke="#1d6db6" stroke-width="4.4" stroke-linecap="round"/>
<path d="M970.6 201.7V186.1" stroke="#1d6db6" stroke-width="4.4" stroke-linecap="round"/>
<path d="M970.6 164.1V145.9" stroke="#1d6db6" stroke-width="4.4" stroke-linecap="round"/>
<circle cx="970.6" cy="107.6" r="2.25"/>
<circle cx="970.6" cy="105.0" r="2.25"/>
<path d="M978.7 250.5V236.7" stroke="#1d6db6" stroke-width="4.4" stroke-linecap="round"/>
<circle cx="978.7" cy="214.6" r="2.25"/>
<circle cx="978.7" cy="196.5" r="2.25"/>
<path d="M978.7 161.5V155.0" stroke="#1d6db6" stroke-width="4.4" stroke-linecap="round"/>
<path d="M994.9 250.5V222.4" stroke="#1d6db6" stroke-width="4.4" stroke-linecap="round"/>
<circle cx="994.9" cy="215.9" r="2.25"/>
<path d="M994.9 209.5V191.3" stroke="#1d6db6" stroke-width="4.4" stroke-linecap="round"/>
<circle cx="994.9" cy="184.8" r="2.25"/>
<path d="M994.9 165.4V148.5" stroke="#1d6db6" stroke-width="4.4" stroke-linecap="round"/>
<circle cx="994.9" cy="128.3" r="2.25"/>
<circle cx="994.9" cy="64.3" r="2.25"/>
<path d="M1003.1 250.5V232.8" stroke="#1d6db6" stroke-width="4.4" stroke-linecap="round"/>
<circle cx="1003.1" cy="200.4" r="2.25"/>
<circle cx="1003.1" cy="195.7" r="2.25"/>
<circle cx="1003.1" cy="177.0" r="2.25"/>
<circle cx="1003.1" cy="160.2" r="2.25"/>
<path d="M1019.3 250.5V218.5" stroke="#1d6db6" stroke-width="4.4" stroke-linecap="round"/>
<circle cx="1019.3" cy="208.2" r="2.25"/>
<circle cx="1019.3" cy="204.3" r="2.25"/>
<circle cx="1019.3" cy="199.1" r="2.25"/>
<circle cx="1019.3" cy="195.2" r="2.25"/>
<circle cx="1019.3" cy="190.0" r="2.25"/>
<circle cx="1019.3" cy="182.2" r="2.25"/>
<path d="M1019.3 156.3V147.2" stroke="#1d6db6" stroke-width="4.4" stroke-linecap="round"/>
<circle cx="1019.3" cy="139.4" r="2.25"/>
<circle cx="1019.3" cy="132.4" r="2.25"/>
<circle cx="1019.3" cy="64.3" r="2.25"/>
<path d="M1035.5 250.5V234.1" stroke="#1d6db6" stroke-width="4.4" stroke-linecap="round"/>
<path d="M1035.5 226.3V212.0" stroke="#1d6db6" stroke-width="4.4" stroke-linecap="round"/>
<circle cx="1035.5" cy="193.9" r="2.25"/>
<path d="M1035.5 157.6V148.5" stroke="#1d6db6" stroke-width="4.4" stroke-linecap="round"/>
<circle cx="1035.5" cy="105.7" r="2.25"/>
<path d="M1059.9 250.5V239.3" stroke="#1d6db6" stroke-width="4.4" stroke-linecap="round"/>
<circle cx="1059.9" cy="224.2" r="2.25"/>
<circle cx="1059.9" cy="205.6" r="2.25"/>
<circle cx="1059.9" cy="199.1" r="2.25"/>
<circle cx="1059.9" cy="192.1" r="2.25"/>
<path d="M1059.9 161.5V155.0" stroke="#1d6db6" stroke-width="4.4" stroke-linecap="round"/>
<circle cx="1059.9" cy="147.2" r="2.25"/>
<circle cx="1059.9" cy="132.4" r="2.25"/>
<circle cx="1059.9" cy="119.5" r="2.25"/>
<circle cx="1059.9" cy="117.9" r="2.25"/>
<circle cx="1059.9" cy="105.7" r="2.25"/>
</g>
<path d="M816.3 223.6L1060.0 217.0" stroke="#e2191c" stroke-width="3.2" stroke-linecap="round"/>
<text x="993.0" y="19.5" font-size="18.4" text-anchor="start" fill="#1a1a1a" >r=0.0475</text>
<text x="993.0" y="39.5" font-size="18.4" text-anchor="start" fill="#1a1a1a" >p=0.0025</text>
<text transform="translate(779,166) rotate(-90)" font-size="18.66" text-anchor="middle" fill="#1a1a1a">Weighted PES of <tspan font-style="italic">integrin a3</tspan></text>
<text x="941.8" y="316.5" font-size="18.66" text-anchor="middle" fill="#1a1a1a" >Maximum ADHD T-score</text>
<text x="944.6" y="339.5" font-size="18.66" text-anchor="middle" fill="#1a1a1a" >during investigation period</text>
</g>
<g id="pd">
<text x="6.0" y="364.0" font-size="21" text-anchor="start" fill="#1a1a1a" font-weight="bold">d</text>
<rect x="47" y="369.6" width="310" height="359.6" fill="#dce6f4"/>
<rect x="357" y="369.6" width="329.6" height="359.6" fill="#fbf8ec"/>
<g id="neuron">
<path d="M351.0,474.4Q343.0,461.0 338.7,455.8Q334.4,450.6 325.5,442.3Q316.6,434.0 298.7,426.3" fill="none" stroke="#e89fb3" stroke-width="3.1" stroke-linecap="round"/><path d="M351.0,474.4Q343.0,461.0 338.7,455.8Q334.4,450.6 325.5,442.3Q316.6,434.0 298.7,426.3" fill="none" stroke="#dce6f4" stroke-width="1.8" stroke-linecap="round"/><g fill="none" stroke="#e89fb3" stroke-width="0.9"><circle cx="353.2" cy="471.3" r="1.4"/><circle cx="345.9" cy="472.0" r="1.3"/><circle cx="349.6" cy="466.1" r="1.1"/><circle cx="342.3" cy="466.9" r="1.1"/><circle cx="346.9" cy="460.5" r="1.2"/><circle cx="339.4" cy="461.8" r="1.6"/><circle cx="342.7" cy="454.7" r="1.6"/><circle cx="335.3" cy="456.5" r="1.2"/><circle cx="337.9" cy="449.9" r="1.3"/><circle cx="330.5" cy="452.6" r="1.4"/><circle cx="333.7" cy="444.6" r="1.4"/><circle cx="326.7" cy="447.7" r="1.2"/><circle cx="329.3" cy="440.4" r="1.3"/><circle cx="321.8" cy="444.1" r="1.2"/><circle cx="325.0" cy="436.2" r="1.2"/><circle cx="317.3" cy="439.9" r="1.5"/><circle cx="320.5" cy="432.1" r="1.6"/><circle cx="313.9" cy="436.3" r="1.5"/><circle cx="313.4" cy="429.1" r="1.1"/><circle cx="307.6" cy="434.4" r="1.4"/><circle cx="307.8" cy="425.6" r="1.4"/><circle cx="301.7" cy="431.7" r="1.3"/><path d="M351.2,472.4L351.9,472.0M347.6,471.0L347.0,471.3M348.0,467.1L348.7,466.7M344.4,465.6L343.3,466.3M344.8,461.7L345.9,461.1M341.0,460.5L340.6,460.8M340.7,456.3L341.5,455.7M336.7,455.3L336.2,455.7M336.4,451.1L337.0,450.7M332.5,450.4L331.4,451.6M331.9,446.6L332.8,445.6M328.0,446.3L327.6,446.8M327.4,442.5L328.5,441.4M323.6,442.1L322.6,443.1M323.0,438.3L324.1,437.1M319.1,438.0L318.4,438.8M318.5,434.2L319.4,433.3M314.6,434.5L314.4,434.9M312.6,431.0L313.0,430.2M308.7,431.9L308.1,433.1M306.6,428.4L307.3,427.0M302.7,429.3L302.2,430.5"/></g>
<path d="M335.6,456.0Q315.0,456.5 292.8,453.0" fill="none" stroke="#e89fb3" stroke-width="3.1" stroke-linecap="round"/><path d="M335.6,456.0Q315.0,456.5 292.8,453.0" fill="none" stroke="#dce6f4" stroke-width="1.8" stroke-linecap="round"/><g fill="none" stroke="#e89fb3" stroke-width="0.9"><circle cx="334.0" cy="452.4" r="1.1"/><circle cx="331.3" cy="460.1" r="1.6"/><circle cx="328.1" cy="452.0" r="1.3"/><circle cx="325.4" cy="460.2" r="1.3"/><circle cx="322.3" cy="453.1" r="1.1"/><circle cx="319.5" cy="460.5" r="1.2"/><circle cx="316.4" cy="452.9" r="1.1"/><circle cx="313.0" cy="459.9" r="1.5"/><circle cx="311.5" cy="451.7" r="1.2"/><circle cx="307.5" cy="458.9" r="1.5"/><circle cx="306.0" cy="450.7" r="1.2"/><circle cx="302.0" cy="457.8" r="1.3"/><circle cx="300.3" cy="450.3" r="1.1"/><circle cx="296.4" cy="457.2" r="1.4"/><circle cx="294.9" cy="448.9" r="1.4"/><path d="M334.1,454.8L334.1,453.5M331.2,457.3L331.2,458.5M328.2,455.0L328.2,453.3M325.3,457.4L325.4,458.9M322.3,455.1L322.3,454.2M319.4,457.6L319.5,459.2M316.4,455.3L316.4,454.1M313.4,457.5L313.3,458.3M311.0,454.7L311.3,453.0M307.9,456.6L307.7,457.4M305.5,453.8L305.8,451.9M302.3,455.7L302.2,456.5M299.9,452.9L300.2,451.4M296.8,454.8L296.6,455.8M294.4,452.0L294.7,450.3"/></g>
<path d="M349.8,524.3Q336.0,521.0 329.2,518.5Q322.5,516.0 298.8,498.1" fill="none" stroke="#e89fb3" stroke-width="3.1" stroke-linecap="round"/><path d="M349.8,524.3Q336.0,521.0 329.2,518.5Q322.5,516.0 298.8,498.1" fill="none" stroke="#dce6f4" stroke-width="1.8" stroke-linecap="round"/><g fill="none" stroke="#e89fb3" stroke-width="0.9"><circle cx="349.3" cy="520.2" r="1.1"/><circle cx="344.7" cy="527.5" r="1.5"/><circle cx="343.9" cy="518.6" r="1.3"/><circle cx="339.4" cy="525.0" r="1.1"/><circle cx="338.1" cy="518.3" r="1.2"/><circle cx="333.4" cy="523.8" r="1.1"/><circle cx="333.1" cy="516.5" r="1.3"/><circle cx="328.2" cy="521.3" r="1.4"/><circle cx="327.7" cy="514.5" r="1.3"/><circle cx="322.6" cy="519.8" r="1.5"/><circle cx="324.0" cy="511.6" r="1.3"/><circle cx="317.1" cy="515.8" r="1.3"/><circle cx="318.6" cy="508.8" r="1.2"/><circle cx="314.1" cy="505.0" r="1.4"/><circle cx="307.6" cy="508.6" r="1.6"/><circle cx="309.6" cy="501.0" r="1.2"/><circle cx="302.6" cy="505.4" r="1.5"/><circle cx="304.6" cy="497.8" r="1.3"/><circle cx="298.0" cy="501.6" r="1.6"/><path d="M348.7,522.8L349.1,521.3M345.4,524.5L345.0,526.0M343.2,521.5L343.6,519.9M339.9,523.2L339.7,523.9M337.7,520.2L337.8,519.5M334.2,521.6L333.8,522.7M332.4,518.4L332.6,517.7M328.8,519.6L328.7,520.0M327.0,516.4L327.2,515.7M323.4,517.6L323.2,518.4M322.0,514.1L323.2,512.7M318.2,514.3L317.8,514.8M317.3,510.6L317.9,509.8M312.6,507.0L313.3,506.1M308.7,507.1L308.6,507.3M307.8,503.4L308.9,502.0M304.0,503.5L303.5,504.2M303.1,499.8L303.9,498.8M299.3,500.0L298.9,500.4"/></g>
<path d="M324.9,519.5Q313.0,526.0 302.3,527.8" fill="none" stroke="#e89fb3" stroke-width="3.1" stroke-linecap="round"/><path d="M324.9,519.5Q313.0,526.0 302.3,527.8" fill="none" stroke="#dce6f4" stroke-width="1.8" stroke-linecap="round"/><g fill="none" stroke="#e89fb3" stroke-width="0.9"><circle cx="321.4" cy="516.6" r="1.5"/><circle cx="322.4" cy="525.5" r="1.4"/><circle cx="315.8" cy="520.5" r="1.1"/><circle cx="316.1" cy="528.2" r="1.4"/><circle cx="310.5" cy="522.0" r="1.6"/><circle cx="303.5" cy="524.0" r="1.2"/><path d="M322.8,519.3L322.1,518.0M321.0,523.0L321.7,524.3M316.9,522.5L316.3,521.5M315.1,526.2L315.4,526.9M311.0,525.1L310.8,523.6M303.9,526.3L303.7,525.2"/></g>
<path d="M349.4,588.0Q341.0,596.0 336.5,591.0Q332.0,586.0 329.5,578.0Q327.0,570.0 320.9,545.8" fill="none" stroke="#e89fb3" stroke-width="3.1" stroke-linecap="round"/><path d="M349.4,588.0Q341.0,596.0 336.5,591.0Q332.0,586.0 329.5,578.0Q327.0,570.0 320.9,545.8" fill="none" stroke="#dce6f4" stroke-width="1.8" stroke-linecap="round"/><g fill="none" stroke="#e89fb3" stroke-width="0.9"><circle cx="346.1" cy="586.6" r="1.4"/><circle cx="349.2" cy="594.1" r="1.3"/><circle cx="341.5" cy="590.2" r="1.1"/><circle cx="344.8" cy="597.8" r="1.5"/><circle cx="342.9" cy="592.0" r="1.2"/><circle cx="334.6" cy="595.0" r="1.5"/><circle cx="338.6" cy="586.8" r="1.3"/><circle cx="329.9" cy="590.1" r="1.2"/><circle cx="334.5" cy="583.5" r="1.6"/><circle cx="326.6" cy="582.4" r="1.5"/><circle cx="333.7" cy="576.7" r="1.3"/><circle cx="324.9" cy="575.9" r="1.1"/><circle cx="331.7" cy="570.3" r="1.4"/><circle cx="322.4" cy="569.5" r="1.5"/><circle cx="329.9" cy="564.4" r="1.2"/><circle cx="321.8" cy="563.3" r="1.4"/><circle cx="327.6" cy="558.6" r="1.2"/><circle cx="319.4" cy="557.4" r="1.3"/><circle cx="326.5" cy="552.4" r="1.3"/><circle cx="317.9" cy="551.4" r="1.4"/><circle cx="324.9" cy="546.4" r="1.3"/><path d="M347.5,588.1L347.1,587.7M347.1,591.9L348.3,593.1M343.3,592.1L342.2,591.0M342.9,595.9L343.7,596.8M340.8,593.9L342.0,592.8M336.7,593.1L335.7,594.0M336.3,588.9L337.6,587.7M332.2,588.1L330.8,589.4M332.6,584.0L333.1,583.9M329.4,581.6L328.0,582.0M330.6,577.6L332.5,577.1M327.4,575.2L326.0,575.6M328.6,571.2L330.4,570.7M325.5,568.8L323.9,569.2M327.0,565.2L328.7,564.7M323.9,562.7L323.1,562.9M325.5,559.1L326.5,558.9M322.4,556.7L320.7,557.1M324.0,553.1L325.2,552.7M320.9,550.6L319.2,551.1M322.4,547.0L323.6,546.7"/></g>
<path d="M325.6,577.5Q312.0,576.0 300.3,571.0" fill="none" stroke="#e89fb3" stroke-width="3.1" stroke-linecap="round"/><path d="M325.6,577.5Q312.0,576.0 300.3,571.0" fill="none" stroke="#dce6f4" stroke-width="1.8" stroke-linecap="round"/><g fill="none" stroke="#e89fb3" stroke-width="0.9"><circle cx="324.3" cy="574.1" r="1.5"/><circle cx="320.1" cy="580.2" r="1.5"/><circle cx="317.5" cy="572.8" r="1.4"/><circle cx="313.3" cy="579.9" r="1.2"/><circle cx="312.0" cy="571.9" r="1.2"/><circle cx="306.0" cy="577.9" r="1.4"/><circle cx="306.3" cy="569.1" r="1.3"/><circle cx="300.2" cy="575.2" r="1.4"/><path d="M324.0,576.1L324.1,575.6M320.4,578.1L320.3,578.7M317.2,575.4L317.4,574.2M313.6,577.4L313.4,578.8M311.0,574.3L311.5,573.0M307.1,575.2L306.6,576.6M305.2,571.8L305.8,570.4M301.3,572.7L300.8,573.9"/></g>
<path d="M345.0,606.0Q320.9,606.0 317.8,604.4Q314.6,602.8 310.6,598.0Q306.6,593.3 297.2,591.0" fill="none" stroke="#e89fb3" stroke-width="3.1" stroke-linecap="round"/><path d="M345.0,606.0Q320.9,606.0 317.8,604.4Q314.6,602.8 310.6,598.0Q306.6,593.3 297.2,591.0" fill="none" stroke="#dce6f4" stroke-width="1.8" stroke-linecap="round"/><g fill="none" stroke="#e89fb3" stroke-width="0.9"><circle cx="343.5" cy="602.0" r="1.4"/><circle cx="337.5" cy="602.0" r="1.6"/><circle cx="334.5" cy="609.4" r="1.6"/><circle cx="331.4" cy="601.8" r="1.2"/><circle cx="328.4" cy="609.6" r="1.2"/><circle cx="325.4" cy="602.9" r="1.5"/><circle cx="322.4" cy="610.3" r="1.5"/><circle cx="321.1" cy="601.7" r="1.5"/><circle cx="314.2" cy="607.5" r="1.6"/><circle cx="316.3" cy="599.3" r="1.6"/><circle cx="308.4" cy="601.9" r="1.3"/><circle cx="312.4" cy="594.5" r="1.2"/><circle cx="305.0" cy="596.7" r="1.1"/><circle cx="305.9" cy="589.2" r="1.1"/><circle cx="301.1" cy="595.5" r="1.4"/><path d="M343.5,604.8L343.5,603.4M337.5,604.8L337.5,603.6M334.5,607.2L334.5,607.8M331.4,604.8L331.4,603.0M328.4,607.2L328.4,608.4M325.4,604.8L325.4,604.4M322.4,607.2L322.4,608.8M319.9,604.1L320.4,603.1M315.6,604.7L314.9,606.1M314.5,600.8L315.1,600.3M310.7,600.0L309.4,601.1M310.5,596.1L311.5,595.2M306.7,595.3L305.8,596.0M305.3,591.8L305.7,590.3M301.6,593.3L301.4,594.2"/></g>
<path d="M347.0,612.0Q326.0,609.0 316.3,609.0Q306.6,609.0 279.7,612.3" fill="none" stroke="#e89fb3" stroke-width="3.1" stroke-linecap="round"/><path d="M347.0,612.0Q326.0,609.0 316.3,609.0Q306.6,609.0 279.7,612.3" fill="none" stroke="#dce6f4" stroke-width="1.8" stroke-linecap="round"/><g fill="none" stroke="#e89fb3" stroke-width="0.9"><circle cx="342.1" cy="614.5" r="1.1"/><circle cx="340.1" cy="606.9" r="1.2"/><circle cx="336.0" cy="614.1" r="1.5"/><circle cx="334.0" cy="606.7" r="1.6"/><circle cx="330.0" cy="613.4" r="1.1"/><circle cx="327.9" cy="606.2" r="1.3"/><circle cx="321.1" cy="605.1" r="1.1"/><circle cx="317.9" cy="613.2" r="1.5"/><circle cx="314.7" cy="605.4" r="1.4"/><circle cx="311.5" cy="613.3" r="1.2"/><circle cx="308.2" cy="605.3" r="1.2"/><circle cx="305.5" cy="612.4" r="1.2"/><circle cx="301.7" cy="606.1" r="1.5"/><circle cx="299.5" cy="613.3" r="1.2"/><circle cx="295.7" cy="606.8" r="1.2"/><circle cx="293.5" cy="613.6" r="1.4"/><circle cx="289.8" cy="607.8" r="1.6"/><circle cx="287.6" cy="614.5" r="1.3"/><circle cx="283.7" cy="608.1" r="1.3"/><circle cx="281.6" cy="615.8" r="1.6"/><path d="M342.3,612.5L342.2,613.4M339.7,609.7L339.9,608.0M336.3,611.7L336.2,612.6M333.7,608.9L333.8,608.3M330.3,610.8L330.1,612.3M327.7,608.0L327.8,607.5M321.1,607.8L321.1,606.3M317.9,610.2L317.9,611.7M314.7,607.8L314.7,606.7M311.5,610.2L311.5,612.1M308.2,607.8L308.2,606.4M305.3,610.4L305.4,611.2M302.0,608.4L301.9,607.6M299.3,611.1L299.4,612.1M296.0,609.1L295.9,608.0M293.3,611.8L293.4,612.3M290.0,609.8L290.0,609.3M287.3,612.6L287.4,613.2M284.0,610.6L283.9,609.4M281.3,613.3L281.5,614.2"/></g>
<path d="M340.0,615.5Q314.6,621.8 283.0,629.7" fill="none" stroke="#e89fb3" stroke-width="3.1" stroke-linecap="round"/><path d="M340.0,615.5Q314.6,621.8 283.0,629.7" fill="none" stroke="#dce6f4" stroke-width="1.8" stroke-linecap="round"/><g fill="none" stroke="#e89fb3" stroke-width="0.9"><circle cx="337.8" cy="612.5" r="1.5"/><circle cx="336.7" cy="620.3" r="1.3"/><circle cx="332.2" cy="614.3" r="1.1"/><circle cx="331.1" cy="621.9" r="1.2"/><circle cx="326.5" cy="615.6" r="1.5"/><circle cx="325.4" cy="623.2" r="1.2"/><circle cx="320.8" cy="616.7" r="1.2"/><circle cx="319.7" cy="624.3" r="1.6"/><circle cx="315.0" cy="617.2" r="1.2"/><circle cx="314.2" cy="626.4" r="1.3"/><circle cx="309.6" cy="620.0" r="1.3"/><circle cx="308.3" cy="627.2" r="1.4"/><circle cx="303.8" cy="621.4" r="1.1"/><circle cx="302.5" cy="628.5" r="1.1"/><circle cx="298.0" cy="622.4" r="1.4"/><circle cx="296.8" cy="630.1" r="1.4"/><circle cx="292.1" cy="623.3" r="1.3"/><circle cx="286.5" cy="625.5" r="1.4"/><circle cx="285.2" cy="632.3" r="1.5"/><path d="M338.3,614.7L338.1,613.9M336.1,617.7L336.4,619.1M332.7,616.1L332.5,615.4M330.4,619.1L330.8,620.7M327.0,617.5L326.9,617.1M324.8,620.5L325.1,622.0M321.4,618.9L321.1,617.9M319.1,621.9L319.3,622.7M315.7,620.3L315.3,618.4M313.5,623.3L313.9,625.1M310.0,621.7L309.9,621.3M307.7,624.8L308.0,625.9M304.3,623.1L304.1,622.5M302.0,626.2L302.3,627.4M298.5,624.6L298.3,623.8M296.2,627.6L296.5,628.7M292.8,626.0L292.4,624.6M287.0,627.5L286.9,626.9M284.7,630.5L284.8,630.8"/></g>
<path d="M349.0,626.0Q338.3,626.5 327.1,632.8Q316.0,639.0 309.0,645.5" fill="none" stroke="#e89fb3" stroke-width="3.1" stroke-linecap="round"/><path d="M349.0,626.0Q338.3,626.5 327.1,632.8Q316.0,639.0 309.0,645.5" fill="none" stroke="#dce6f4" stroke-width="1.8" stroke-linecap="round"/><g fill="none" stroke="#e89fb3" stroke-width="0.9"><circle cx="347.0" cy="622.2" r="1.5"/><circle cx="343.8" cy="629.4" r="1.4"/><circle cx="339.9" cy="622.3" r="1.5"/><circle cx="338.9" cy="630.5" r="1.4"/><circle cx="332.6" cy="625.1" r="1.1"/><circle cx="333.7" cy="632.8" r="1.2"/><circle cx="327.6" cy="627.7" r="1.4"/><circle cx="329.0" cy="636.1" r="1.3"/><circle cx="323.2" cy="631.5" r="1.5"/><circle cx="324.0" cy="638.8" r="1.4"/><circle cx="318.2" cy="634.2" r="1.2"/><circle cx="318.8" cy="641.0" r="1.5"/><circle cx="312.6" cy="637.7" r="1.6"/><circle cx="315.0" cy="645.0" r="1.3"/><circle cx="307.5" cy="641.5" r="1.4"/><path d="M347.2,624.9L347.1,623.7M343.7,627.4L343.7,628.1M340.0,625.2L340.0,623.8M337.6,628.2L338.2,629.3M334.0,627.5L333.2,626.1M332.7,631.0L333.1,631.7M329.0,630.3L328.3,629.0M327.7,633.8L328.4,635.0M324.1,633.1L323.9,632.8M322.8,636.6L323.3,637.5M319.1,635.9L318.8,635.3M317.8,639.4L318.0,639.7M314.0,639.2L313.7,638.8M313.3,643.1L314.1,644.0M309.4,643.5L308.4,642.5"/></g>
<path d="M354.7,481.4Q361.9,470.8 373.8,463.1Q385.6,455.3 397.5,450.9Q409.3,446.4 430.7,440.5" fill="none" stroke="#e89fb3" stroke-width="3.1" stroke-linecap="round"/><path d="M354.7,481.4Q361.9,470.8 373.8,463.1Q385.6,455.3 397.5,450.9Q409.3,446.4 430.7,440.5" fill="none" stroke="#fbf8ec" stroke-width="1.8" stroke-linecap="round"/><g fill="none" stroke="#e89fb3" stroke-width="0.9"><circle cx="358.8" cy="482.3" r="1.2"/><circle cx="354.6" cy="475.5" r="1.3"/><circle cx="362.3" cy="476.9" r="1.1"/><circle cx="358.2" cy="470.2" r="1.4"/><circle cx="365.2" cy="473.3" r="1.4"/><circle cx="363.5" cy="465.4" r="1.2"/><circle cx="370.2" cy="470.5" r="1.6"/><circle cx="367.8" cy="461.8" r="1.3"/><circle cx="372.9" cy="459.2" r="1.2"/><circle cx="379.7" cy="464.3" r="1.4"/><circle cx="377.9" cy="456.5" r="1.6"/><circle cx="383.8" cy="460.3" r="1.4"/><circle cx="382.1" cy="452.5" r="1.2"/><circle cx="388.4" cy="458.8" r="1.1"/><circle cx="388.5" cy="451.0" r="1.3"/><circle cx="393.4" cy="456.0" r="1.3"/><circle cx="393.6" cy="448.6" r="1.1"/><circle cx="398.9" cy="454.6" r="1.2"/><circle cx="398.6" cy="445.8" r="1.6"/><circle cx="403.9" cy="452.1" r="1.3"/><circle cx="403.8" cy="443.8" r="1.3"/><circle cx="409.2" cy="450.3" r="1.1"/><circle cx="410.0" cy="442.9" r="1.2"/><circle cx="415.0" cy="449.3" r="1.2"/><circle cx="416.0" cy="440.7" r="1.3"/><circle cx="421.2" cy="447.6" r="1.5"/><circle cx="422.0" cy="438.9" r="1.6"/><circle cx="427.1" cy="445.4" r="1.1"/><circle cx="428.1" cy="437.0" r="1.5"/><path d="M356.6,480.7L357.9,481.6M356.4,476.8L355.7,476.2M360.2,475.4L361.4,476.3M360.0,471.5L359.4,471.0M363.7,471.0L364.5,472.2M364.8,467.5L364.1,466.4M368.5,467.9L369.3,469.2M369.5,464.4L368.6,462.9M374.3,461.3L373.6,460.2M378.0,461.7L378.9,463.2M379.0,458.2L378.8,457.8M382.7,458.6L383.0,459.2M383.8,455.1L382.8,453.5M387.3,455.9L388.0,457.7M389.1,452.7L389.0,452.2M392.6,454.0L392.9,454.8M394.4,450.7L394.0,449.6M397.9,452.0L398.5,453.6M399.7,448.7L399.1,447.3M403.1,450.0L403.5,450.8M404.9,446.8L404.3,445.0M408.4,448.0L408.9,449.2M410.5,444.8L410.3,444.1M414.2,446.3L414.7,448.1M416.6,443.1L416.3,442.0M420.3,444.6L420.8,446.2M422.7,441.5L422.4,440.4M426.4,442.9L426.8,444.3M428.9,439.8L428.5,438.5"/></g>
<path d="M388.0,451.8Q381.0,442.0 373.7,434.6" fill="none" stroke="#e89fb3" stroke-width="3.1" stroke-linecap="round"/><path d="M388.0,451.8Q381.0,442.0 373.7,434.6" fill="none" stroke="#fbf8ec" stroke-width="1.8" stroke-linecap="round"/><g fill="none" stroke="#e89fb3" stroke-width="0.9"><circle cx="390.3" cy="448.3" r="1.1"/><circle cx="381.9" cy="450.6" r="1.3"/><circle cx="386.5" cy="443.7" r="1.5"/><circle cx="378.3" cy="445.8" r="1.4"/><circle cx="382.2" cy="438.4" r="1.3"/><circle cx="375.0" cy="440.6" r="1.2"/><circle cx="378.0" cy="432.8" r="1.2"/><path d="M388.1,449.9L389.4,449.0M384.4,448.8L383.0,449.8M384.6,445.0L385.3,444.5M380.9,443.9L379.5,444.9M380.6,439.9L381.3,439.3M376.5,439.1L375.9,439.7M375.8,435.0L377.1,433.7"/></g>
<path d="M355.3,508.7Q373.7,500.4 385.5,492.7Q397.4,485.0 424.7,460.7" fill="none" stroke="#e89fb3" stroke-width="3.1" stroke-linecap="round"/><path d="M355.3,508.7Q373.7,500.4 385.5,492.7Q397.4,485.0 424.7,460.7" fill="none" stroke="#fbf8ec" stroke-width="1.8" stroke-linecap="round"/><g fill="none" stroke="#e89fb3" stroke-width="0.9"><circle cx="357.8" cy="503.6" r="1.2"/><circle cx="363.2" cy="508.6" r="1.1"/><circle cx="363.1" cy="501.5" r="1.4"/><circle cx="368.9" cy="507.2" r="1.3"/><circle cx="368.3" cy="498.9" r="1.3"/><circle cx="373.8" cy="504.2" r="1.2"/><circle cx="372.5" cy="496.0" r="1.4"/><circle cx="379.4" cy="501.3" r="1.2"/><circle cx="377.8" cy="493.7" r="1.3"/><circle cx="382.1" cy="490.0" r="1.1"/><circle cx="388.4" cy="494.5" r="1.5"/><circle cx="387.1" cy="487.3" r="1.1"/><circle cx="391.6" cy="483.8" r="1.6"/><circle cx="398.0" cy="488.6" r="1.2"/><circle cx="396.0" cy="481.3" r="1.6"/><circle cx="403.2" cy="485.2" r="1.5"/><circle cx="400.2" cy="477.6" r="1.1"/><circle cx="407.5" cy="481.5" r="1.6"/><circle cx="404.3" cy="473.7" r="1.2"/><circle cx="411.2" cy="477.2" r="1.4"/><circle cx="409.0" cy="470.5" r="1.4"/><circle cx="415.7" cy="473.8" r="1.2"/><circle cx="412.7" cy="466.2" r="1.3"/><circle cx="416.9" cy="462.5" r="1.3"/><circle cx="423.8" cy="466.0" r="1.6"/><circle cx="421.0" cy="458.7" r="1.1"/><path d="M358.7,505.8L358.2,504.7M362.4,506.8L362.7,507.5M364.0,503.5L363.7,502.8M367.6,504.5L368.3,506.0M369.3,501.1L368.8,500.1M372.9,502.1L373.3,503.0M374.2,498.6L373.2,497.1M377.9,499.1L378.7,500.3M379.0,495.5L378.5,494.8M383.7,492.5L382.7,490.9M387.4,492.9L387.6,493.2M388.5,489.4L387.7,488.2M393.2,486.3L392.4,485.2M396.9,486.8L397.4,487.6M397.7,483.2L397.0,482.5M401.3,483.1L402.2,484.1M401.9,479.4L401.0,478.4M405.5,479.4L406.4,480.4M406.1,475.7L405.0,474.5M409.7,475.6L410.2,476.1M410.3,472.0L409.9,471.5M413.9,471.9L414.9,472.9M414.5,468.2L413.5,467.2M418.7,464.5L417.7,463.5M422.3,464.4L422.7,464.8M422.9,460.7L421.7,459.5"/></g>
<path d="M391.5,490.9Q416.4,490.9 436.6,485.0" fill="none" stroke="#e89fb3" stroke-width="3.1" stroke-linecap="round"/><path d="M391.5,490.9Q416.4,490.9 436.6,485.0" fill="none" stroke="#fbf8ec" stroke-width="1.8" stroke-linecap="round"/><g fill="none" stroke="#e89fb3" stroke-width="0.9"><circle cx="393.1" cy="494.6" r="1.3"/><circle cx="396.2" cy="487.5" r="1.6"/><circle cx="399.3" cy="494.2" r="1.3"/><circle cx="402.4" cy="487.3" r="1.2"/><circle cx="405.5" cy="495.0" r="1.4"/><circle cx="411.7" cy="494.3" r="1.2"/><circle cx="414.8" cy="487.6" r="1.2"/><circle cx="419.1" cy="494.6" r="1.2"/><circle cx="419.8" cy="486.5" r="1.4"/><circle cx="424.8" cy="492.9" r="1.3"/><circle cx="430.3" cy="490.2" r="1.1"/><circle cx="431.3" cy="482.9" r="1.5"/><path d="M393.1,492.1L393.1,493.3M396.2,489.7L396.2,489.1M399.3,492.1L399.3,492.9M402.4,489.7L402.4,488.5M405.5,492.1L405.5,493.7M411.7,492.1L411.7,493.1M414.8,489.7L414.8,488.8M418.2,491.6L418.7,493.5M420.4,488.5L420.2,487.8M424.0,489.9L424.5,491.7M429.7,488.3L430.0,489.1M431.9,485.1L431.7,484.3"/></g>
<path d="M357.6,568.3Q360.0,582.0 361.9,586.2Q363.9,590.5 369.4,595.4Q374.9,600.2 386.7,597.0Q398.5,593.9 427.6,591.2" fill="none" stroke="#e89fb3" stroke-width="3.1" stroke-linecap="round"/><path d="M357.6,568.3Q360.0,582.0 361.9,586.2Q363.9,590.5 369.4,595.4Q374.9,600.2 386.7,597.0Q398.5,593.9 427.6,591.2" fill="none" stroke="#fbf8ec" stroke-width="1.8" stroke-linecap="round"/><g fill="none" stroke="#e89fb3" stroke-width="0.9"><circle cx="353.7" cy="570.8" r="1.2"/><circle cx="362.7" cy="572.7" r="1.1"/><circle cx="355.2" cy="577.5" r="1.3"/><circle cx="363.1" cy="579.7" r="1.1"/><circle cx="357.6" cy="584.8" r="1.6"/><circle cx="360.3" cy="590.5" r="1.5"/><circle cx="367.7" cy="588.4" r="1.1"/><circle cx="364.8" cy="596.2" r="1.6"/><circle cx="371.6" cy="592.9" r="1.5"/><circle cx="369.6" cy="599.6" r="1.5"/><circle cx="376.5" cy="596.2" r="1.1"/><circle cx="378.5" cy="595.8" r="1.5"/><circle cx="383.2" cy="601.6" r="1.6"/><circle cx="384.2" cy="593.7" r="1.5"/><circle cx="389.1" cy="600.0" r="1.1"/><circle cx="390.1" cy="591.9" r="1.4"/><circle cx="395.2" cy="599.3" r="1.2"/><circle cx="400.4" cy="598.1" r="1.2"/><circle cx="402.5" cy="589.9" r="1.6"/><circle cx="406.1" cy="596.5" r="1.5"/><circle cx="408.3" cy="588.8" r="1.4"/><circle cx="411.9" cy="596.1" r="1.3"/><circle cx="414.1" cy="588.3" r="1.2"/><circle cx="417.8" cy="596.2" r="1.1"/><circle cx="420.0" cy="588.8" r="1.3"/><circle cx="423.6" cy="596.0" r="1.6"/><circle cx="425.8" cy="588.0" r="1.1"/><path d="M356.7,570.2L354.8,570.5M359.7,573.2L361.6,572.9M357.9,577.1L356.5,577.3M360.9,580.1L362.0,579.9M359.6,583.9L359.0,584.2M362.2,589.6L361.6,589.8M365.8,590.6L367.0,589.2M366.4,594.3L365.8,595.0M370.2,594.4L370.5,594.1M370.8,598.2L370.6,598.4M374.6,598.3L375.8,597.0M379.0,597.9L378.9,597.3M382.6,599.4L382.8,600.1M384.9,596.3L384.6,595.1M388.5,597.8L388.8,598.9M390.8,594.7L390.4,593.3M394.4,596.2L394.9,598.1M400.1,595.0L400.2,596.9M402.8,592.3L402.7,591.5M405.9,594.4L405.9,595.0M408.6,591.8L408.4,590.2M411.7,593.9L411.8,594.9M414.4,591.2L414.2,589.5M417.5,593.3L417.7,595.1M420.2,590.7L420.2,590.1M423.3,592.8L423.5,594.4M426.0,590.1L425.9,589.1"/></g>
<path d="M374.2,608.5Q398.5,619.6 431.7,625.1" fill="none" stroke="#e89fb3" stroke-width="3.1" stroke-linecap="round"/><path d="M374.2,608.5Q398.5,619.6 431.7,625.1" fill="none" stroke="#fbf8ec" stroke-width="1.8" stroke-linecap="round"/><g fill="none" stroke="#e89fb3" stroke-width="0.9"><circle cx="374.0" cy="612.5" r="1.3"/><circle cx="379.6" cy="607.3" r="1.4"/><circle cx="379.3" cy="615.2" r="1.5"/><circle cx="385.3" cy="609.2" r="1.5"/><circle cx="384.9" cy="617.2" r="1.3"/><circle cx="390.7" cy="611.6" r="1.2"/><circle cx="390.4" cy="619.6" r="1.5"/><circle cx="396.0" cy="614.3" r="1.3"/><circle cx="395.3" cy="623.0" r="1.2"/><circle cx="400.6" cy="615.8" r="1.6"/><circle cx="402.1" cy="623.4" r="1.5"/><circle cx="406.1" cy="616.6" r="1.1"/><circle cx="407.6" cy="624.6" r="1.2"/><circle cx="411.7" cy="617.4" r="1.6"/><circle cx="413.1" cy="625.6" r="1.3"/><circle cx="417.0" cy="619.3" r="1.6"/><circle cx="418.7" cy="626.1" r="1.4"/><circle cx="422.6" cy="620.2" r="1.2"/><circle cx="424.2" cy="627.2" r="1.4"/><circle cx="428.2" cy="620.6" r="1.1"/><circle cx="429.8" cy="628.3" r="1.2"/><path d="M375.1,610.2L374.6,611.3M378.7,609.3L379.0,608.6M380.5,612.7L379.9,613.8M384.1,611.7L384.7,610.6M385.9,615.1L385.5,616.0M389.5,614.2L390.2,612.7M391.3,617.6L391.0,618.2M394.9,616.7L395.5,615.5M396.7,620.1L395.8,621.9M400.1,618.6L400.3,617.3M402.5,621.5L402.4,621.9M405.6,619.6L405.9,617.7M408.0,622.4L407.8,623.4M411.1,620.5L411.4,618.9M413.5,623.3L413.4,624.3M416.7,621.4L416.8,620.8M419.1,624.2L419.0,624.8M422.2,622.3L422.4,621.4M424.6,625.1L424.5,625.8M427.7,623.2L428.0,621.6M430.1,626.1L429.9,627.1"/></g>
<path d="M373.5,615.4Q391.6,629.3 402.0,637.6Q412.3,645.9 447.0,663.2" fill="none" stroke="#e89fb3" stroke-width="3.1" stroke-linecap="round"/><path d="M373.5,615.4Q391.6,629.3 402.0,637.6Q412.3,645.9 447.0,663.2" fill="none" stroke="#fbf8ec" stroke-width="1.8" stroke-linecap="round"/><g fill="none" stroke="#e89fb3" stroke-width="0.9"><circle cx="372.5" cy="619.0" r="1.5"/><circle cx="379.2" cy="615.0" r="1.2"/><circle cx="377.0" cy="622.6" r="1.4"/><circle cx="383.3" cy="619.0" r="1.4"/><circle cx="381.5" cy="626.1" r="1.3"/><circle cx="388.6" cy="621.5" r="1.4"/><circle cx="386.1" cy="629.5" r="1.5"/><circle cx="393.1" cy="624.9" r="1.2"/><circle cx="390.2" cy="633.4" r="1.1"/><circle cx="397.7" cy="628.7" r="1.5"/><circle cx="395.1" cy="636.7" r="1.3"/><circle cx="401.7" cy="633.2" r="1.4"/><circle cx="399.5" cy="640.6" r="1.1"/><circle cx="406.7" cy="636.4" r="1.4"/><circle cx="404.5" cy="643.8" r="1.4"/><circle cx="411.5" cy="639.8" r="1.3"/><circle cx="415.1" cy="643.6" r="1.6"/><circle cx="414.4" cy="651.8" r="1.1"/><circle cx="420.9" cy="645.4" r="1.6"/><circle cx="419.9" cy="654.0" r="1.2"/><circle cx="426.1" cy="648.2" r="1.3"/><circle cx="425.1" cy="657.0" r="1.2"/><circle cx="431.1" cy="651.6" r="1.4"/><circle cx="430.7" cy="659.0" r="1.2"/><circle cx="436.8" cy="653.6" r="1.1"/><circle cx="436.0" cy="661.9" r="1.1"/><circle cx="442.2" cy="656.1" r="1.4"/><circle cx="441.3" cy="664.6" r="1.3"/><circle cx="447.3" cy="659.3" r="1.3"/><path d="M373.9,617.2L373.4,617.8M377.6,617.1L378.5,615.9M378.4,620.7L377.9,621.4M382.1,620.5L382.4,620.1M383.0,624.2L382.3,625.1M386.7,624.0L387.7,622.6M387.5,627.6L387.0,628.3M391.2,627.5L392.4,625.9M392.0,631.2L390.9,632.5M395.8,631.1L396.8,629.9M396.6,634.8L395.9,635.7M400.4,634.8L400.8,634.3M401.2,638.5L400.2,639.7M405.0,638.5L405.8,637.5M405.8,642.2L405.4,642.7M409.6,642.2L410.7,640.8M414.2,645.5L414.4,645.0M415.8,649.0L414.9,650.8M419.5,648.2L420.2,646.8M421.1,651.6L420.4,653.0M424.8,650.8L425.6,649.4M426.4,654.3L425.6,655.9M430.2,653.5L430.5,652.8M431.8,657.0L431.3,658.0M435.5,656.1L436.3,654.6M437.1,659.6L436.5,660.9M440.9,658.8L441.6,657.4M442.5,662.3L441.9,663.5M446.2,661.5L446.7,660.5"/></g>
<path d="M412.3,643.1Q424.0,640.0 435.9,639.0" fill="none" stroke="#e89fb3" stroke-width="3.1" stroke-linecap="round"/><path d="M412.3,643.1Q424.0,640.0 435.9,639.0" fill="none" stroke="#fbf8ec" stroke-width="1.8" stroke-linecap="round"/><g fill="none" stroke="#e89fb3" stroke-width="0.9"><circle cx="414.8" cy="646.5" r="1.3"/><circle cx="415.9" cy="639.0" r="1.3"/><circle cx="420.5" cy="644.4" r="1.5"/><circle cx="421.6" cy="636.9" r="1.3"/><circle cx="425.8" cy="643.0" r="1.3"/><circle cx="428.2" cy="636.5" r="1.4"/><circle cx="431.7" cy="642.4" r="1.1"/><circle cx="434.1" cy="635.1" r="1.4"/><path d="M414.1,643.9L414.4,645.2M416.4,640.8L416.3,640.3M419.9,642.3L420.1,642.9M422.2,639.2L421.9,638.2M425.6,641.1L425.6,641.7M428.4,638.4L428.3,637.9M431.5,640.6L431.6,641.3M434.3,637.9L434.2,636.5"/></g>
<path d="M366.6,623.7Q372.2,645.9 376.1,656.0Q380.0,666.0 387.4,683.3" fill="none" stroke="#e89fb3" stroke-width="3.1" stroke-linecap="round"/><path d="M366.6,623.7Q372.2,645.9 376.1,656.0Q380.0,666.0 387.4,683.3" fill="none" stroke="#fbf8ec" stroke-width="1.8" stroke-linecap="round"/><g fill="none" stroke="#e89fb3" stroke-width="0.9"><circle cx="364.0" cy="625.8" r="1.3"/><circle cx="371.8" cy="626.8" r="1.5"/><circle cx="364.1" cy="631.7" r="1.5"/><circle cx="374.6" cy="637.9" r="1.5"/><circle cx="367.0" cy="642.8" r="1.3"/><circle cx="375.8" cy="643.5" r="1.5"/><circle cx="369.6" cy="648.6" r="1.2"/><circle cx="377.3" cy="648.9" r="1.2"/><circle cx="371.8" cy="654.3" r="1.3"/><circle cx="378.9" cy="654.8" r="1.2"/><circle cx="373.2" cy="660.4" r="1.5"/><circle cx="381.3" cy="660.5" r="1.2"/><circle cx="376.0" cy="665.9" r="1.3"/><circle cx="384.5" cy="665.8" r="1.4"/><circle cx="378.0" cy="672.0" r="1.6"/><circle cx="386.7" cy="671.7" r="1.5"/><circle cx="389.1" cy="677.5" r="1.5"/><circle cx="383.5" cy="683.3" r="1.5"/><path d="M365.8,625.4L365.2,625.5M368.8,627.6L370.4,627.2M367.2,630.9L365.6,631.3M371.6,638.7L373.2,638.3M370.0,642.0L368.2,642.5M373.0,644.2L374.3,643.9M371.6,647.8L370.7,648.1M375.0,649.8L376.2,649.3M373.9,653.5L373.0,653.8M377.2,655.5L377.8,655.3M376.1,659.3L374.6,659.8M379.4,661.3L380.3,660.9M378.3,665.0L377.1,665.5M381.7,667.0L383.2,666.3M380.7,670.8L379.4,671.4M384.2,672.7L385.3,672.3M386.7,678.5L387.7,678.1M385.7,682.3L384.8,682.7"/></g>
<path d="M350.6,474C350.4,510 350,560 349.6,588M354.2,474C354.6,510 355.4,560 355.8,597" stroke="#e89fb3" stroke-width="1.0" fill="none"/>
<g fill="none" stroke="#e89fb3" stroke-width="0.8"><circle cx="348.3" cy="478.0" r="1.2"/><circle cx="357.1" cy="479.6" r="1.2"/><circle cx="348.1" cy="481.4" r="1.2"/><circle cx="347.8" cy="484.8" r="1.2"/><circle cx="357.3" cy="486.4" r="1.2"/><circle cx="347.8" cy="488.2" r="1.2"/><circle cx="357.1" cy="489.8" r="1.2"/><circle cx="348.0" cy="491.6" r="1.2"/><circle cx="356.6" cy="493.2" r="1.2"/><circle cx="348.2" cy="495.0" r="1.2"/><circle cx="356.8" cy="496.6" r="1.2"/><circle cx="347.7" cy="498.4" r="1.2"/><circle cx="357.1" cy="500.0" r="1.2"/><circle cx="347.8" cy="501.8" r="1.2"/><circle cx="357.5" cy="503.4" r="1.2"/><circle cx="348.1" cy="505.2" r="1.2"/><circle cx="348.0" cy="508.6" r="1.2"/><circle cx="347.6" cy="512.0" r="1.2"/><circle cx="348.1" cy="515.4" r="1.2"/><circle cx="357.0" cy="517.0" r="1.2"/><circle cx="347.8" cy="518.8" r="1.2"/><circle cx="357.1" cy="520.4" r="1.2"/><circle cx="357.3" cy="523.8" r="1.2"/><circle cx="357.3" cy="527.2" r="1.2"/><circle cx="347.5" cy="529.0" r="1.2"/><circle cx="357.6" cy="530.6" r="1.2"/><circle cx="347.8" cy="532.4" r="1.2"/><circle cx="357.7" cy="534.0" r="1.2"/><circle cx="347.6" cy="535.8" r="1.2"/><circle cx="357.3" cy="537.4" r="1.2"/><circle cx="347.2" cy="539.2" r="1.2"/><circle cx="357.5" cy="540.8" r="1.2"/><circle cx="347.8" cy="542.6" r="1.2"/><circle cx="357.4" cy="544.2" r="1.2"/><circle cx="347.3" cy="546.0" r="1.2"/><circle cx="358.1" cy="547.6" r="1.2"/><circle cx="347.2" cy="549.4" r="1.2"/><circle cx="357.7" cy="551.0" r="1.2"/><circle cx="347.6" cy="552.8" r="1.2"/><circle cx="357.5" cy="554.4" r="1.2"/><circle cx="347.3" cy="556.2" r="1.2"/><circle cx="357.9" cy="557.8" r="1.2"/><circle cx="347.5" cy="559.6" r="1.2"/><circle cx="358.1" cy="561.2" r="1.2"/><circle cx="347.4" cy="563.0" r="1.2"/><circle cx="358.3" cy="564.6" r="1.2"/><circle cx="347.1" cy="566.4" r="1.2"/><circle cx="357.8" cy="568.0" r="1.2"/><circle cx="347.0" cy="569.8" r="1.2"/><circle cx="357.7" cy="571.4" r="1.2"/><circle cx="347.2" cy="573.2" r="1.2"/><circle cx="358.0" cy="574.8" r="1.2"/><circle cx="347.4" cy="576.6" r="1.2"/><circle cx="357.8" cy="578.2" r="1.2"/><circle cx="347.0" cy="580.0" r="1.2"/><circle cx="357.8" cy="581.6" r="1.2"/><circle cx="347.1" cy="583.4" r="1.2"/><circle cx="358.6" cy="585.0" r="1.2"/></g>
<ellipse cx="354.8" cy="608.9" rx="5.3" ry="9.0" fill="none" stroke="#e89fb3" stroke-width="1.0"/>
<path d="M349.4,626C350,645 349.6,668 348.9,686M353.6,626C353.4,645 353,668 352.6,685" stroke="#e89fb3" stroke-width="0.85" fill="none"/>
</g>
<text x="174.5" y="400.0" font-size="19.3" text-anchor="middle" fill="#1a1a1a" font-style="italic">WT</text>
<text x="353.0" y="400.0" font-size="19.3" text-anchor="middle" fill="#1a1a1a" >CA1 neuron</text>
<text x="561.0" y="400.0" font-size="19.3" text-anchor="middle" fill="#1a1a1a" font-style="italic">NEX-Itga3<tspan font-size="12" dy="-7">-/-</tspan></text>
<g id="mouseWT">
<path d="M133,444C129,455 160,458 178,458C195,458 206,455 212,449" fill="none" stroke="#d9978f" stroke-width="2.8" stroke-linecap="round"/>
<path d="M150,450l7,3M156,450l6,3M189,452l6,-1" stroke="#d9978f" stroke-width="1.6" stroke-linecap="round"/>
<path d="M133.3,444C132,432 148,415 166,412.3C180,410.5 190,417 196,423C204,428 211,438 214,445C214.5,449 210,451.5 204,451C196,452 190,452 186,452.5C176,453 160,452 152,450C144,450 134.5,450 133.3,444Z" fill="#333334"/>
<ellipse cx="190" cy="427.5" rx="4.6" ry="6.2" fill="#8d8d8f" transform="rotate(-18 190 427.5)"/><path d="M193,424c2,-5 8,-5 9,1l-5,4z" fill="#4a4a4c"/>
<circle cx="203.7" cy="438.3" r="1.2" fill="#c4231f"/><path d="M195,444.5l13,1.5" stroke="#8a8a8a" stroke-width="0.6"/>
</g>
<g id="miceNEX">
<g fill="#9d9691"><path d="M462,424C461,420 466,417 472,415L481,407C483,409 484,412 484,415C492,414 500,416 510,419C522,421 531,427 532,436C532,446 524,450 516,451L516,460L511,460L510,452C500,453 490,452 484,449L484,456L479,456L479,447C472,442 468,434 466,429C463,428 462,426 462,424Z"/><ellipse cx="504" cy="417" rx="8.5" ry="7.5" fill="#aaa49f"/></g>
<ellipse cx="464.5" cy="424" rx="2.2" ry="1.8" fill="#fff"/><path d="M483,421l4,1.5" stroke="#e77" stroke-width="1.2"/>
<path d="M477,456l8,0l-2,3l-7,1zM508,460l9,0l-1,3l-9,1z" fill="#efcfc8"/>
<g fill="#9d9691"><path d="M654,427C655,423 650,420 644,418L636,410C634,412 633,415 633,418C625,417 617,419 607,422C595,424 587,430 586,439C586,449 594,453 602,454L602,463L607,463L608,455C618,456 628,455 634,452L634,458L639,458L639,450C646,445 650,437 652,432C655,431 654,429 654,427Z"/><ellipse cx="613" cy="419" rx="8.5" ry="7.5" fill="#aaa49f"/></g>
<ellipse cx="652" cy="427" rx="2.2" ry="1.8" fill="#fff"/><path d="M631,424l4,1.5" stroke="#e77" stroke-width="1.2"/>
<path d="M597,463l9,0l1,3l-10,1zM632,458l8,0l2,3l-9,1z" fill="#efcfc8"/>
<path d="M530,449l6,-1l3,6l-9,2zM547,456l7,0l1,5l-8,1zM574,455l8,0l2,4l-9,2z" fill="#e8b6b4"/>
<path d="M545,446l8,0l1,11l-7,0zM571,446l9,0l1,10l-7,0zM530,440l8,2l-2,9l-6,-1z" fill="#2c2c2e"/>
<ellipse cx="546.5" cy="422" rx="7.5" ry="8.5" fill="#3b3b3d"/><ellipse cx="582" cy="421" rx="7.6" ry="8.6" fill="#3b3b3d"/>
<path d="M528,436C528,420 542,411 556,411C572,411 584,422 584,437C584,447 578,452 570,452L566,449C560,452 552,452 548,449L543,455C536,452 528,447 528,436Z" fill="#2c2c2e"/>
<ellipse cx="547" cy="423" rx="4.2" ry="5.2" fill="#4a4a4d"/><ellipse cx="581.5" cy="421.5" rx="4.4" ry="5.4" fill="#4a4a4d"/>
<circle cx="557" cy="435.5" r="1.5" fill="#c4231f"/><circle cx="571.8" cy="435.5" r="1.5" fill="#c4231f"/><ellipse cx="564.5" cy="447" rx="2.2" ry="1.6" fill="#e99"/>
<path d="M553,424c-3,5 -4,10 -2,15" stroke="#444" stroke-width="0.8" fill="none"/>
</g>
<text x="165.3" y="491.5" font-size="19.3" text-anchor="middle" fill="#1a1a1a" >Normal Behavior</text>
<text x="580.0" y="491.5" font-size="19.3" text-anchor="middle" fill="#1a1a1a" >ADHD-like Behavior</text>
<g id="synL">
<clipPath id="clipL"><ellipse cx="180.9" cy="594" rx="97.2" ry="93.2"/></clipPath>
<g clip-path="url(#clipL)"><path d="M130.2,534.7C134,534.5 136,537 139,540L236,640C240,644 243,650 240.5,655C238,660 233,660 228,658.5C214,654 200,647 186,645C170,643 160,643 153,648C140,657 132,668 122,682L96,660C112,645 124,628 127.5,606C130.5,585 123,566 121.5,546C121,539 125,535 130.2,534.7Z" fill="url(#gSpL)" stroke="#c8302b" stroke-width="1.3"/></g>
<path d="M191,518.1C196,518.5 200,520.5 205,523C210,525.5 214,528.5 219,529.5C225,530.8 231,530.8 236,530.5C241,530 246,529 250,527.9L257.6,535.6L257.8,539.5L251.3,540.2C247,545 244.5,549.5 243.5,554.4C242,561 241.2,566 240.9,572.6C240.7,578 241.5,584 240.9,589.4C240,594 236,596 231.9,595.3C225,594 219,589 215,583C208,575.5 202,567 198.1,558.3C194,550 190.5,541 189.1,532.4C188,526 187,518 191,518.1Z" fill="url(#gBt)"/>
<use href="#ves" transform="translate(207.1,537.4) rotate(0) scale(1.0)"/>
<use href="#ves" transform="translate(230.0,555.4) rotate(40) scale(1.0)"/>
<path d="M252,536.6L298,528.4M252.4,538.8L298,530.4" stroke="#6d7486" stroke-width="0.9"/><path d="M297,527.6l4.4,-2l0.6,5.6l-4.6,0.4z" fill="#c9cdd6" stroke="#333" stroke-width="0.7"/>
<circle cx="299.3" cy="527.6" r="12.8" fill="none" stroke="#1a1a1a" stroke-width="1.2"/>
<g fill="#c0cad8" stroke="#7e8b9e" stroke-width="0.75"><circle cx="183.2" cy="576.2" r="1.3"/><circle cx="191.5" cy="578.9" r="1.3"/><circle cx="198.8" cy="579.7" r="1.3"/><circle cx="206.1" cy="582.4" r="1.3"/><circle cx="209.6" cy="579.7" r="1.3"/><circle cx="213.3" cy="579.7" r="1.3"/><circle cx="195.7" cy="583.5" r="1.3"/><circle cx="201.3" cy="583.9" r="1.3"/><circle cx="207.1" cy="586.0" r="1.3"/><circle cx="213.3" cy="586.6" r="1.3"/><circle cx="194.6" cy="587.6" r="1.3"/><circle cx="201.3" cy="588.0" r="1.3"/><circle cx="191.5" cy="591.4" r="1.3"/><circle cx="195.7" cy="591.8" r="1.3"/><circle cx="206.1" cy="589.7" r="1.3"/><circle cx="211.3" cy="590.7" r="1.3"/><circle cx="192.6" cy="595.9" r="1.3"/><circle cx="199.8" cy="593.4" r="1.3"/><circle cx="208.8" cy="594.9" r="1.3"/><circle cx="212.9" cy="603.8" r="1.3"/></g>
<path d="M130.4,563.6L141.5,554.2" stroke="#4f9e2a" stroke-width="1.7" stroke-linecap="round"/><path d="M137,551.5L142.5,547" stroke="#d9c51f" stroke-width="1.6" stroke-linecap="round"/>
<ellipse cx="149.2" cy="549.3" rx="8.6" ry="4.1" transform="rotate(-36 149.2 549.3)" fill="#5db52f" stroke="#3f7d1c" stroke-width="0.5"/>
<path d="M139.5,549.5C143,544 147,538.5 150.5,536C153.5,534.5 154.5,537 153.5,540C151,545.5 146,549 141.5,551.5C139.8,552 138.8,551 139.5,549.5Z" fill="#f3e02c" stroke="#b8a21a" stroke-width="0.5"/>
<g transform="translate(163.6,569.8) rotate(42) scale(0.56)"><use href="#d1rk"/></g>
<use href="#ampar" transform="translate(181.1,590.7) rotate(62) scale(0.66)"/>
<use href="#glua1" transform="translate(197.3,607.8) rotate(62) scale(0.66)"/>
<use href="#glua1" transform="translate(150.0,631.9) rotate(70) scale(0.66)"/>
<use href="#nmdar" transform="translate(223.1,633.7) rotate(58) scale(0.6)"/>
<use href="#nmdar" transform="translate(192.6,648.0) rotate(65) scale(0.6)"/>
<path d="M131.5,566C134,574 141,578 151,579.5" fill="none" stroke="#111" stroke-width="1.4" marker-end="url(#ahs)"/>
<path d="M154,582C147,594 145,604 147.5,617" fill="none" stroke="#111" stroke-width="1.4" marker-end="url(#ahs)"/>
<path d="M164.5,627L182,618.5" fill="none" stroke="#111" stroke-width="1.4" marker-end="url(#ahs)"/>
<ellipse cx="180.9" cy="594" rx="97.2" ry="93.2" fill="none" stroke="#1a1a1a" stroke-width="1.7" stroke-dasharray="6.4 5.4"/>
</g>
<g id="synR">
<clipPath id="clipR"><ellipse cx="567.5" cy="596.5" rx="98.3" ry="94.4"/></clipPath>
<g clip-path="url(#clipR)"><path d="M605.4,524.9C611,524.5 614.5,527 615,532C616,548 616,564 619,578.6C623,596 640,610 668,624L655,650C640,641 626,636.5 614.8,636.4C604,636.5 596,639 588,643C572,651 556,660 541,664C535,665.5 530.5,662 533,656.5C538,645 546,635 553,624.3C564,608 574,591 582.6,573.2C588,560 592,545 596,530.3C597.5,526 601,525 605.4,524.9Z" fill="url(#gSpR)" stroke="#c8302b" stroke-width="1.3"/></g>
<path d="M534.3,533C538,532.5 540,536 541.5,540C545,550 546.5,560 545,570.6C543.5,581 538,590 534.3,597.4C530,606 524,614 516,618.5C511,620.5 507.5,618 505.5,613C502,603 497,592 489,584C484.5,580.5 479,578 473.8,577L473.8,562.5C486,562 497,558 506,551C516,543.5 524,535 534.3,533Z" fill="url(#gBt)"/>
<circle cx="534" cy="599" r="9" fill="url(#gGlow)"/>
<use href="#ves" transform="translate(529.7,557.7) rotate(0) scale(0.95)"/>
<use href="#ves" transform="translate(510.1,580.8) rotate(200) scale(0.95)"/>
<path d="M474,569.3L431,585.2M474.5,571.8L432,587.4" stroke="#666" stroke-width="0.9"/>
<circle cx="430.3" cy="586.1" r="12.8" fill="none" stroke="#1a1a1a" stroke-width="1.2"/>
<g fill="#c0cad8" stroke="#7e8b9e" stroke-width="0.75"><circle cx="549.8" cy="584.5" r="1.3"/><circle cx="560.3" cy="583.4" r="1.3"/><circle cx="553.1" cy="590.7" r="1.3"/><circle cx="558.4" cy="592.6" r="1.3"/><circle cx="546.3" cy="596.1" r="1.3"/><circle cx="555.2" cy="596.9" r="1.3"/><circle cx="561.9" cy="598.8" r="1.3"/><circle cx="534.3" cy="596.9" r="1.3"/><circle cx="539.6" cy="597.9" r="1.3"/><circle cx="536.4" cy="601.4" r="1.3"/><circle cx="542.3" cy="602.2" r="1.3"/><circle cx="548.5" cy="602.2" r="1.3"/><circle cx="555.7" cy="602.8" r="1.3"/><circle cx="543.1" cy="608.2" r="1.3"/><circle cx="548.5" cy="608.2" r="1.3"/><circle cx="543.7" cy="613.5" r="1.3"/><circle cx="549.8" cy="615.7" r="1.3"/><circle cx="546.3" cy="612.2" r="1.3"/></g>
<use href="#nmdar" transform="translate(579.9,570.8) rotate(118) scale(0.6)"/>
<use href="#nmdar" transform="translate(562.5,612.2) rotate(100) scale(0.6)"/>
<use href="#glua1" transform="translate(602.8,608.2) rotate(-38) scale(0.62)"/>
<ellipse cx="567.5" cy="596.5" rx="98.3" ry="94.4" fill="none" stroke="#1a1a1a" stroke-width="1.7" stroke-dasharray="6.4 5.4"/>
</g>
<text x="159.5" y="713.0" font-size="19.3" text-anchor="middle" fill="#1a1a1a" >Mature Synapse</text>
<text x="575.0" y="713.0" font-size="19.3" text-anchor="middle" fill="#1a1a1a" >Silent synapse</text>
<path d="M220.5,727.3L313.1,708.8L297.5,720.1L690,720.1L690,733.8L297.5,733.8L313.1,745.4Z" fill="url(#gResc)"/>
<path d="M133.3,753.9L183.9,838.9L146.3,806.5C150,840 172,872 208.5,896L154.1,891C128,865 114,832 113.9,797.9L67.2,838.9Z" fill="url(#gUp)"/>
<path d="M530.9,918.2L590,839L574.6,886.6C600,865 622,830 633.8,790L651.8,808C646,852 618,896 578.5,920.8L635.1,945.8Z" fill="url(#gDn)"/>
<path d="M656.5,729.6L661,721.5L665,729.6Z" fill="#fff"/>
<g id="syringe" transform="translate(330.3,718.8) rotate(-27.7)">
<path d="M0,0L12.5,0" stroke="#8a8a8a" stroke-width="0.9"/>
<path d="M12,-0.9l4,-1.3l0,4.4l-4,-1.3z" fill="#e6c46a"/>
<rect x="16" y="-3.6" width="27" height="7.2" rx="1" fill="#cfd9ea" stroke="#6f6f6f" stroke-width="0.8"/>
<rect x="16.2" y="-3.9" width="6" height="7.8" rx="1" fill="#e3322c"/><rect x="21.2" y="-3.6" width="1.6" height="7.2" fill="#222"/>
<path d="M25,-3.4v3M27.5,-3.4v3M30,-3.4v3M32.5,-3.4v3M35,-3.4v3M37.5,-3.4v3" stroke="#8d99ad" stroke-width="0.5"/>
<rect x="42.2" y="-6.2" width="3.6" height="12.4" rx="1.4" fill="#fff" stroke="#777" stroke-width="0.8"/>
<rect x="45.6" y="-2.5" width="7" height="5" fill="#fff" stroke="#777" stroke-width="0.8"/>
<rect x="52" y="-5.4" width="3.4" height="10.8" rx="1.6" fill="#fff" stroke="#777" stroke-width="0.8"/>
</g>
<text x="395.9" y="717.2" font-size="16" text-anchor="middle" fill="#1a1a1a" >MPH</text>
<text x="359.3" y="757.5" font-size="19.3" text-anchor="middle" fill="#1a1a1a" >Rescue</text>
<g id="spineB">
<path d="M201.3,788.9C201,782 204,779 209.4,779.2C235,780.5 262,782.5 287.2,784C315,785.8 340,788.2 365,788.2C394,788 422,785 449.2,782.4C468,780.5 488,778.5 505,777.4C512,777 518,779 521,784.5C524,790 525.4,798 522.8,804C521.5,806.5 520.4,808 519.2,809L459,845.6C447,854.5 434,862 423.3,869.9C411,879 406,890 405.5,902.3L405.5,937.9L334.2,937.9C334,927 334.5,916 332.6,905.5C330,891 322,880 309.9,873.1C286,859.5 261,848 238.6,834.2C226,826 214,816 206.2,805.1C203,800 201.5,794 201.3,788.9Z" fill="url(#gSpB)" stroke="#c8302b" stroke-width="1.4"/>
<use href="#nmdar" transform="translate(226.0,818.5) rotate(20) scale(0.98)"/>
<use href="#nmdar" transform="translate(265.4,790.0) rotate(0) scale(0.98)"/>
<use href="#glua1" transform="translate(326.4,789.4) rotate(0) scale(0.93)"/>
<use href="#ampar" transform="translate(371.3,789.8) rotate(0) scale(1.0)"/>
<use href="#d1r" transform="translate(414.5,787.0) rotate(0) scale(1.05)"/>
<use href="#d1r" transform="translate(459.3,821.5) rotate(0) scale(0.84)"/>
<use href="#nmdar" transform="translate(489.7,787.3) rotate(0) scale(0.95)"/>
<use href="#glua1" transform="translate(381.2,899.0) rotate(-24) scale(0.95)"/>
<path d="M449,828C438,825 426,820 416.5,813.5" fill="none" stroke="#111" stroke-width="1.5" marker-end="url(#ah)"/>
<path d="M410,808C419,832 412,862 389.5,883" fill="none" stroke="#111" stroke-width="1.5" marker-end="url(#ah)"/>
<path d="M363.5,884.5C338,880 320,850 317,816" fill="none" stroke="#111" stroke-width="1.5" marker-end="url(#ah)"/>
<path d="M481.5,879.5C470,876 461,862 461.8,846" fill="none" stroke="#e2231f" stroke-width="1.4" stroke-dasharray="2 1.8" marker-end="url(#ahr)"/>
</g>
<text x="497.8" y="902.5" font-size="19.3" text-anchor="middle" fill="#1a1a1a" >MPH</text>
<g id="legend">
<rect x="52" y="953" width="639" height="51.5" fill="none" stroke="#111" stroke-width="3.1" stroke-dasharray="5.7 5.2"/>
<use href="#integ" transform="translate(76.2,976.5) rotate(0) scale(1.05)"/>
<use href="#ampar" transform="translate(173.2,977.1) rotate(0) scale(0.6 0.72)"/>
<use href="#glua1" transform="translate(268.3,977.1) rotate(0) scale(0.6 0.72)"/>
<use href="#nmdar" transform="translate(417.9,978.0) rotate(0) scale(0.6 0.72)"/>
<use href="#d1rk" transform="translate(522.5,977.4) rotate(0) scale(0.72)"/>
<circle cx="584.1" cy="979" r="2.4" fill="#c5d2e6" stroke="#6f86ad" stroke-width="1"/>
<text x="91.3" y="985.0" font-size="17.1" text-anchor="start" fill="#1a1a1a" >Integrin</text>
<text x="186.4" y="985.0" font-size="17.1" text-anchor="start" fill="#1a1a1a" >AMPAR</text>
<text x="279.3" y="985.0" font-size="17.1" text-anchor="start" fill="#1a1a1a" >GluA1-AMPAR</text>
<text x="433.0" y="985.0" font-size="17.1" text-anchor="start" fill="#1a1a1a" >NMDAR</text>
<text x="536.9" y="985.0" font-size="17.1" text-anchor="start" fill="#1a1a1a" >D1R</text>
<text x="595.1" y="985.0" font-size="17.1" text-anchor="start" fill="#1a1a1a" >Transmitter</text>
</g>
</g>
<g id="pe">
<text x="729.0" y="364.0" font-size="21" text-anchor="start" fill="#1a1a1a" font-weight="bold">e</text>
<path d="M905.4,586.6L1038,729L775.6,728Z" fill="url(#gTri)"/>
<use href="#person" x="780.2" y="377" fill="#b5d7f1"/>
<use href="#person" x="821.7" y="377" fill="#f6b42c"/>
<use href="#person" x="863" y="377" fill="#b5d7f1"/>
<use href="#person" x="904.6" y="377" fill="#b5d7f1"/>
<use href="#person" x="946" y="377" fill="#b5d7f1"/>
<use href="#person" x="987.5" y="377" fill="#b5d7f1"/>
<use href="#person" x="1029" y="377" fill="#f6b42c"/>
<use href="#person" x="780.2" y="445.2" fill="#b5d7f1"/>
<use href="#person" x="821.7" y="445.2" fill="#b5d7f1"/>
<use href="#person" x="863" y="445.2" fill="#f6b42c"/>
<use href="#person" x="904.6" y="445.2" fill="#b5d7f1"/>
<use href="#person" x="946" y="445.2" fill="#b5d7f1"/>
<use href="#person" x="987.5" y="445.2" fill="#b5d7f1"/>
<use href="#person" x="1029" y="445.2" fill="#b5d7f1"/>
<use href="#person" x="780.2" y="513.3" fill="#b5d7f1"/>
<use href="#person" x="821.7" y="513.3" fill="#b5d7f1"/>
<use href="#person" x="863" y="513.3" fill="#b5d7f1"/>
<use href="#person" x="904.6" y="513.3" fill="#b5d7f1"/>
<use href="#person" x="946" y="513.3" fill="#f6b42c"/>
<use href="#person" x="987.5" y="513.3" fill="#b5d7f1"/>
<use href="#person" x="1029" y="513.3" fill="#b5d7f1"/>
<use href="#person" x="780.2" y="581.5" fill="#b5d7f1"/>
<use href="#person" x="821.7" y="581.5" fill="#b5d7f1"/>
<use href="#person" x="863" y="581.5" fill="#b5d7f1"/>
<use href="#person" x="904.6" y="581.5" fill="#f6b42c"/>
<use href="#person" x="946" y="581.5" fill="#b5d7f1"/>
<use href="#person" x="987.5" y="581.5" fill="#b5d7f1"/>
<use href="#person" x="1029" y="581.5" fill="#b5d7f1"/>
<path d="M775.6,728L905.4,586.6L1038,729" fill="none" stroke="#111" stroke-width="1.6" stroke-linejoin="miter"/>
<text x="908.0" y="709.5" font-size="20.1" text-anchor="middle" fill="#1a1a1a" ><tspan font-style="italic">ITGα3</tspan> with SNP</text>
<g id="dna">
<path d="M766.7,748.0C776.3,748.0 792.2,724.4 796.7,724.4L810.7,724.4C808.0,724.4 795.4,748.0 792.7,748.0Z" fill="#ffffff" />
<path d="M808.7,724.4L836.7,724.4C838.9,724.4 852.1,748.0 864.7,748.0L848.7,748.0C840.7,748.0 818.7,724.4 808.7,724.4Z" fill="#ffffff" />
<path d="M861.0,748.0C869.6,748.0 884.0,724.4 888.0,724.4L900.6,724.4C898.2,724.4 886.8,748.0 884.4,748.0Z" fill="#ffffff" />
<path d="M898.8,724.4L924.0,724.4C926.0,724.4 937.9,748.0 949.2,748.0L934.8,748.0C927.6,748.0 907.8,724.4 898.8,724.4Z" fill="#ffffff" />
<path d="M947.8,748.0C957.4,748.0 973.3,724.4 977.8,724.4L991.8,724.4C989.1,724.4 976.5,748.0 973.8,748.0Z" fill="#ffffff" />
<path d="M989.8,724.4L1017.8,724.4C1020.0,724.4 1033.2,748.0 1045.8,748.0L1029.8,748.0C1021.8,748.0 999.8,724.4 989.8,724.4Z" fill="#ffffff" />
<path d="M779.7,748.0C788.7,748.0 803.5,726.4 807.7,726.4L815.2,728.9C812.8,728.9 801.3,748.0 798.9,748.0Z" fill="#8289c6" stroke="#43527e" stroke-width="0.35"/>
<path d="M872.7,748.0C880.8,748.0 894.1,726.4 897.9,726.4L904.6,728.9C902.4,728.9 892.2,748.0 890.0,748.0Z" fill="#8289c6" stroke="#43527e" stroke-width="0.35"/>
<path d="M960.8,748.0C969.8,748.0 984.6,726.4 988.8,726.4L996.3,728.9C993.9,728.9 982.4,748.0 980.0,748.0Z" fill="#8289c6" stroke="#43527e" stroke-width="0.35"/>
<path d="M756.7,748.0C768.3,748.0 787.6,724.4 793.0,724.4L800.4,725.4C797.1,725.4 781.5,748.0 778.2,748.0Z" fill="#66b8e6" stroke="#43527e" stroke-width="0.35"/>
<path d="M852.0,748.0C862.5,748.0 879.8,724.4 884.7,724.4L891.3,725.4C888.3,725.4 874.3,748.0 871.4,748.0Z" fill="#66b8e6" stroke="#43527e" stroke-width="0.35"/>
<path d="M937.8,748.0C949.4,748.0 968.7,724.4 974.1,724.4L981.5,725.4C978.2,725.4 962.6,748.0 959.3,748.0Z" fill="#66b8e6" stroke="#43527e" stroke-width="0.35"/>
<path d="M783.7,744.5l1.4,-2.6M787.3,741.5l1.4,-2.6M790.9,738.5l1.4,-2.6M794.5,735.5l1.4,-2.6M798.1,732.5l1.4,-2.6M801.7,729.5l1.4,-2.6M822.7,728.9l0.8,2.6M827.7,731.8l0.8,2.6M832.7,734.7l0.8,2.6M837.7,737.6l0.8,2.6M842.7,740.5l0.8,2.6M847.7,743.4l0.8,2.6M876.3,744.5l1.4,-2.6M879.5,741.5l1.4,-2.6M882.8,738.5l1.4,-2.6M886.0,735.5l1.4,-2.6M889.3,732.5l1.4,-2.6M892.5,729.5l1.4,-2.6M911.4,728.9l0.8,2.6M915.9,731.8l0.8,2.6M920.4,734.7l0.8,2.6M924.9,737.6l0.8,2.6M929.4,740.5l0.8,2.6M933.9,743.4l0.8,2.6M964.8,744.5l1.4,-2.6M968.4,741.5l1.4,-2.6M972.0,738.5l1.4,-2.6M975.6,735.5l1.4,-2.6M979.2,732.5l1.4,-2.6M982.8,729.5l1.4,-2.6M1003.8,728.9l0.8,2.6M1008.8,731.8l0.8,2.6M1013.8,734.7l0.8,2.6M1018.8,737.6l0.8,2.6M1023.8,740.5l0.8,2.6M1028.8,743.4l0.8,2.6" stroke="#777" stroke-width="0.6" fill="none"/>
<path d="M793.0,724.4L819.7,725.0C822.3,725.0 837.6,748.0 852.2,748.0L838.9,748.0C829.7,748.0 804.5,724.4 793.0,724.4Z" fill="#1763ad" stroke="#43527e" stroke-width="0.35"/>
<path d="M821.1,724.9L841.9,725.9C844.4,725.9 859.0,748.0 873.0,748.0L862.7,748.0C854.4,748.0 831.5,724.9 821.1,724.9Z" fill="#b39bd0" stroke="#43527e" stroke-width="0.35"/>
<path d="M884.7,724.4L908.7,725.0C911.0,725.0 924.8,748.0 938.0,748.0L926.0,748.0C917.7,748.0 895.0,724.4 884.7,724.4Z" fill="#1763ad" stroke="#43527e" stroke-width="0.35"/>
<path d="M910.0,724.9L928.7,725.9C930.9,725.9 944.1,748.0 956.7,748.0L947.4,748.0C939.9,748.0 919.3,724.9 910.0,724.9Z" fill="#b39bd0" stroke="#43527e" stroke-width="0.35"/>
<path d="M974.1,724.4L1000.8,725.0C1003.4,725.0 1018.7,748.0 1033.3,748.0L1020.0,748.0C1010.8,748.0 985.6,724.4 974.1,724.4Z" fill="#1763ad" stroke="#43527e" stroke-width="0.35"/>
<path d="M1002.2,724.9L1023.0,725.9C1025.5,725.9 1040.1,748.0 1054.1,748.0L1043.8,748.0C1035.5,748.0 1012.6,724.9 1002.2,724.9Z" fill="#b39bd0" stroke="#43527e" stroke-width="0.35"/>
<path d="M756,748.3H1053" stroke="#9aa0b8" stroke-width="0.6"/>
<circle cx="839.5" cy="740.1" r="3.0" fill="#e21f26" stroke="#3a1010" stroke-width="1.1"/>
<circle cx="879.5" cy="738.4" r="3.0" fill="#f3e61f" stroke="#3a1010" stroke-width="1.1"/>
<circle cx="891.3" cy="733.9" r="3.0" fill="#e21f26" stroke="#3a1010" stroke-width="1.1"/>
<circle cx="927.8" cy="739.3" r="3.0" fill="#e21f26" stroke="#3a1010" stroke-width="1.1"/>
</g>
<text x="913.7" y="782.0" font-size="20.3" text-anchor="middle" fill="#1a1a1a" >Integrin α3 downregulation</text>
<linearGradient id="gc0" x1="0" x2="0" y1="0" y2="1"><stop offset="0" stop-color="#c6463a"/><stop offset="1" stop-color="#e5aba6"/></linearGradient>
<path d="M908.25,798.75L915.75,805.75L923.25,798.75L923.25,805.25L915.75,813.25L908.25,805.25Z" fill="url(#gc0)"/>
<linearGradient id="gc1" x1="0" x2="0" y1="0" y2="1"><stop offset="0" stop-color="#cb5548"/><stop offset="1" stop-color="#e7b2ac"/></linearGradient>
<path d="M908.25,810.45L915.75,817.45L923.25,810.45L923.25,816.95L915.75,824.95L908.25,816.95Z" fill="url(#gc1)"/>
<linearGradient id="gc2" x1="0" x2="0" y1="0" y2="1"><stop offset="0" stop-color="#d06556"/><stop offset="1" stop-color="#e9b9b2"/></linearGradient>
<path d="M908.25,822.15L915.75,829.15L923.25,822.15L923.25,828.65L915.75,836.65L908.25,828.65Z" fill="url(#gc2)"/>
<linearGradient id="gc3" x1="0" x2="0" y1="0" y2="1"><stop offset="0" stop-color="#d67565"/><stop offset="1" stop-color="#ecc0b9"/></linearGradient>
<path d="M908.25,833.85L915.75,840.85L923.25,833.85L923.25,840.35L915.75,848.35L908.25,840.35Z" fill="url(#gc3)"/>
<linearGradient id="gc4" x1="0" x2="0" y1="0" y2="1"><stop offset="0" stop-color="#db8573"/><stop offset="1" stop-color="#eec8c0"/></linearGradient>
<path d="M908.25,845.55L915.75,852.55L923.25,845.55L923.25,852.05L915.75,860.05L908.25,852.05Z" fill="url(#gc4)"/>
<linearGradient id="gc5" x1="0" x2="0" y1="0" y2="1"><stop offset="0" stop-color="#e09581"/><stop offset="1" stop-color="#f1cfc6"/></linearGradient>
<path d="M908.25,857.25L915.75,864.25L923.25,857.25L923.25,863.75L915.75,871.75L908.25,863.75Z" fill="url(#gc5)"/>
<path d="M908.25,866L915.75,872.5L923.25,866L923.25,897.5L933.05,890L915.75,947L898.45,890L908.25,897.5Z" fill="url(#gHead)"/>
<text transform="translate(955,871) rotate(-90)" font-size="19.3" text-anchor="middle" fill="#1a1a1a">Positively related</text>
<ellipse cx="921.25" cy="983" rx="114.25" ry="27.4" fill="#cc5b4a"/>
<text x="919.4" y="990.0" font-size="20.3" text-anchor="middle" fill="#1a1a1a" >ADHD symptoms</text>
</g>
</svg>
</body></html>
